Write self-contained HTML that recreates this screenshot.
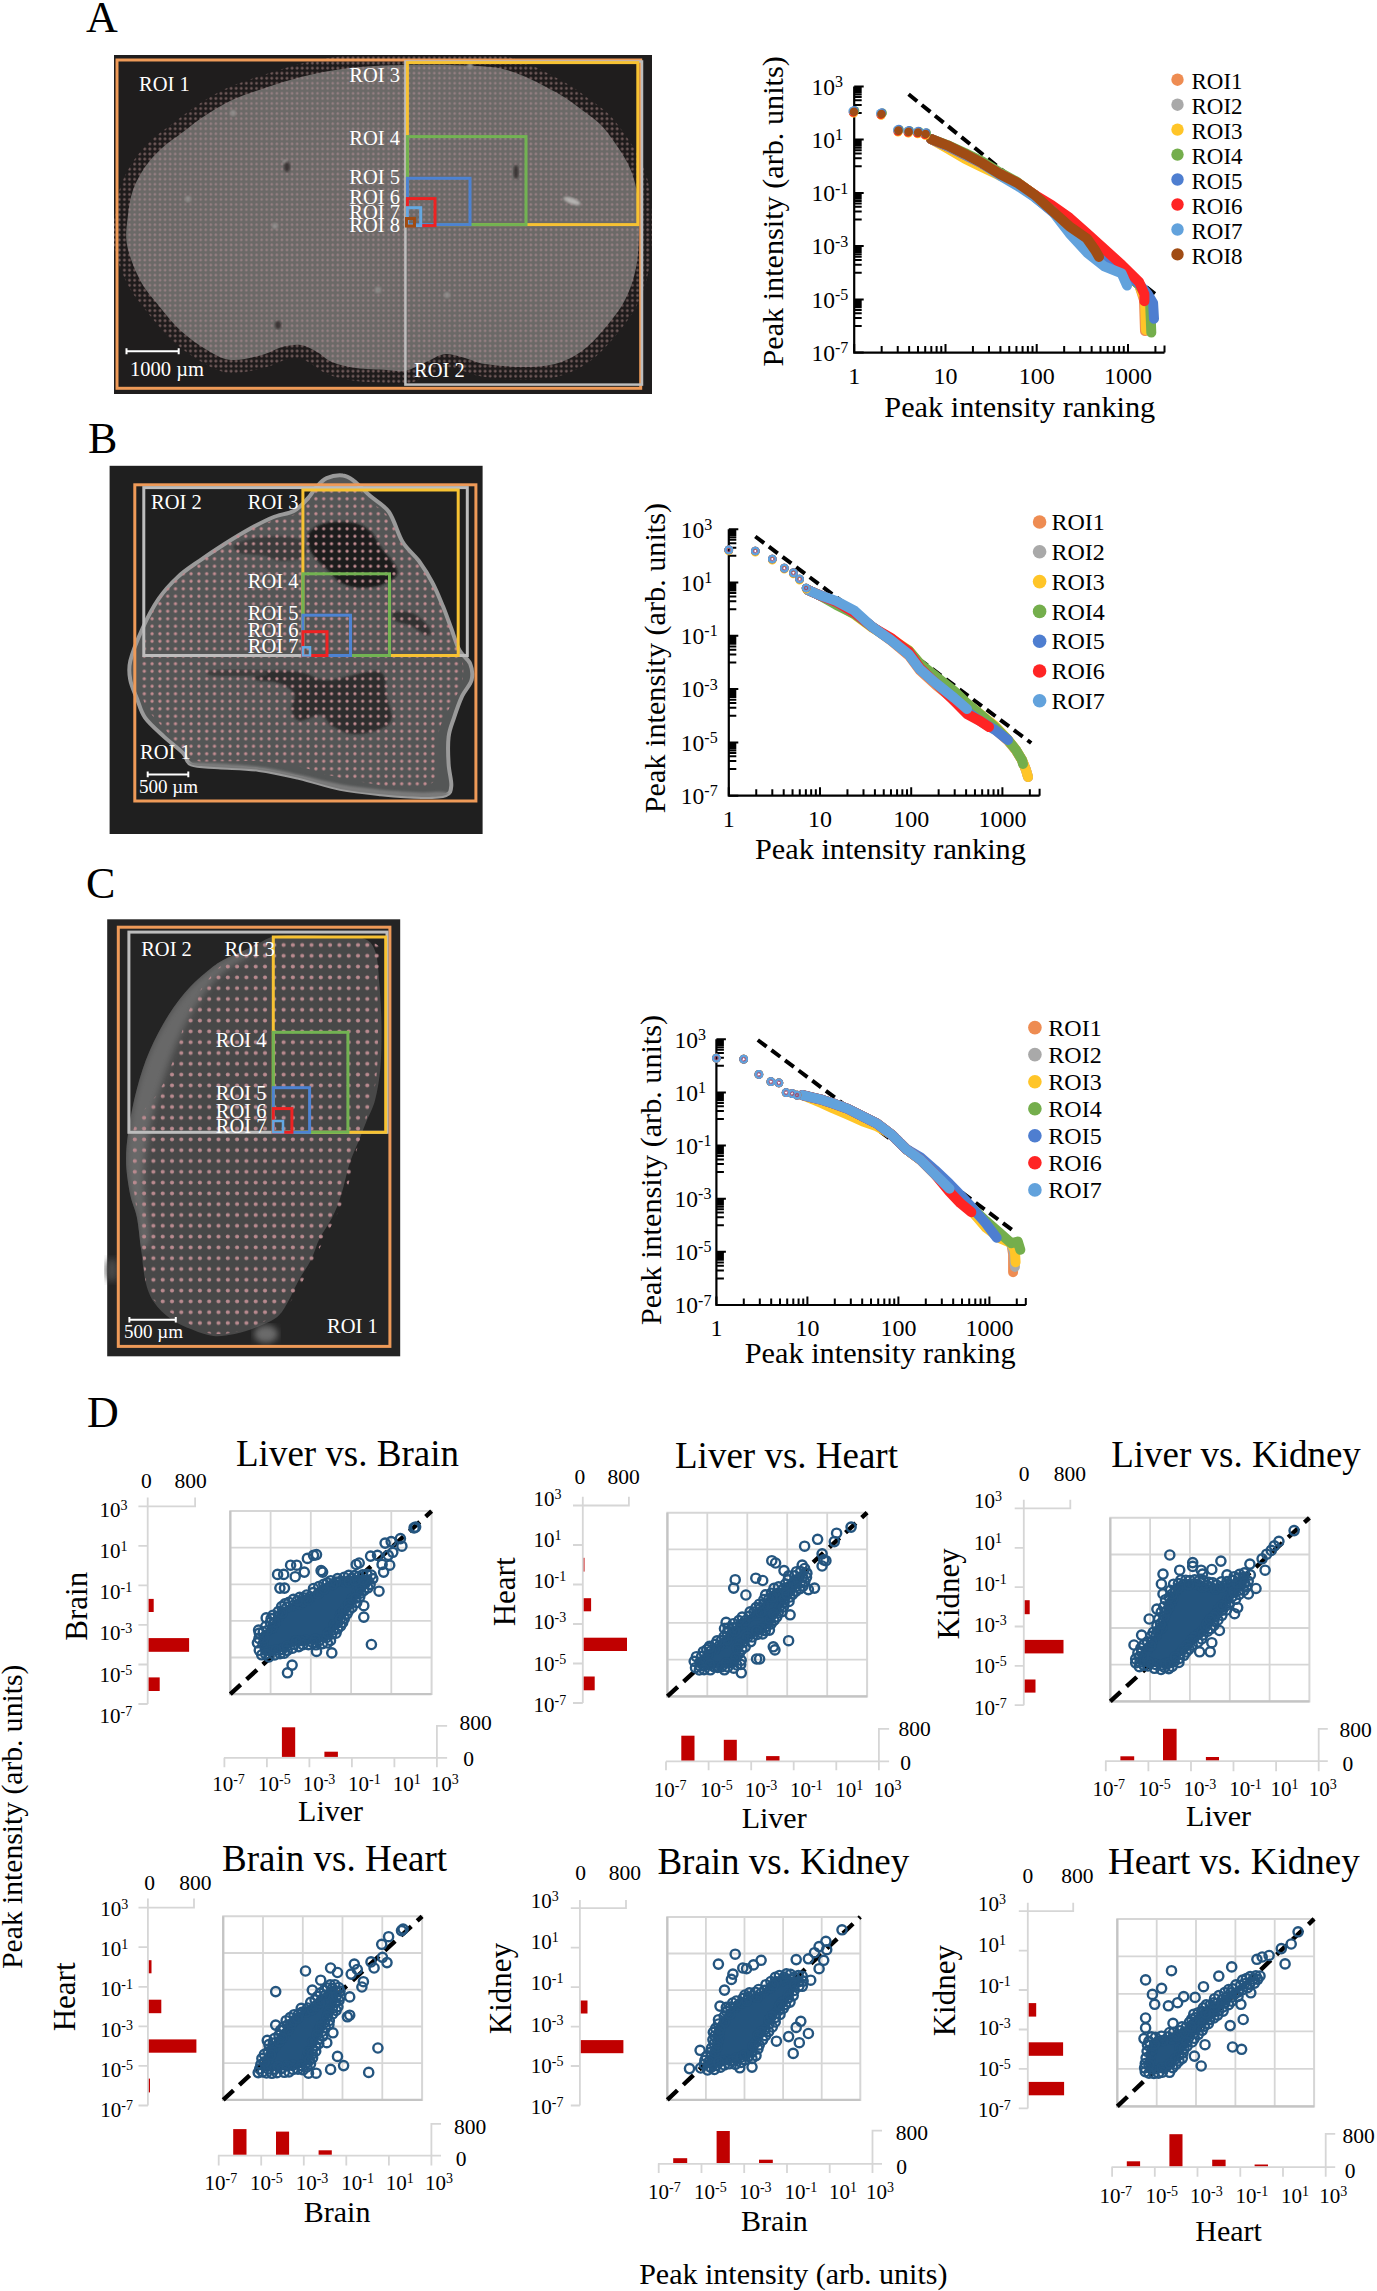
<!DOCTYPE html><html><head><meta charset="utf-8"><style>html,body{margin:0;padding:0;background:#fff;}svg{display:block;}text{font-family:'Liberation Serif', serif;}</style></head><body>
<svg width="1377" height="2291" viewBox="0 0 1377 2291">
<defs>
<pattern id="dotA" x="0" y="0" width="5.08" height="5.05" patternUnits="userSpaceOnUse"><rect width="5.1" height="5.1" fill="#6b6967"/><circle cx="2.5" cy="2.5" r="1.35" fill="#947f82"/></pattern>
<pattern id="haloA" x="0" y="0" width="5.08" height="5.05" patternUnits="userSpaceOnUse"><rect width="5.1" height="5.1" fill="#1e1b1b"/><circle cx="2.5" cy="2.5" r="1.45" fill="#6e5858"/></pattern>
<pattern id="dotB" x="0" y="0" width="7.8" height="7.5" patternUnits="userSpaceOnUse"><circle cx="3.9" cy="3.7" r="1.65" fill="#c48d92"/></pattern>
<pattern id="dotC" x="0" y="0" width="9.3" height="10.8" patternUnits="userSpaceOnUse"><circle cx="4.6" cy="5.4" r="2.0" fill="#b98a8f"/></pattern>
<filter id="blur1"><feGaussianBlur stdDeviation="1.2"/></filter>
<filter id="blur3"><feGaussianBlur stdDeviation="3"/></filter>
</defs>
<rect width="100%" height="100%" fill="#fff"/>
<text x="86.0" y="32.0" font-size="44" text-anchor="start" fill="#000" >A</text>
<text x="88.0" y="453.0" font-size="44" text-anchor="start" fill="#000" >B</text>
<text x="86.0" y="898.0" font-size="44" text-anchor="start" fill="#000" >C</text>
<text x="87.0" y="1427.0" font-size="44" text-anchor="start" fill="#000" >D</text>
<rect x="114" y="55" width="538" height="339" fill="#1f1d1d"/>
<clipPath id="cAimg"><rect x="114" y="55" width="538" height="339"/></clipPath>
<path d="M405.0,65.0 C417.5,64.8 435.7,64.7 450.0,65.0 C464.3,65.3 481.0,66.0 491.0,67.0 C501.0,68.0 503.8,69.2 510.0,71.0 C516.2,72.8 522.0,75.3 528.0,78.0 C534.0,80.7 540.0,83.8 546.0,87.0 C552.0,90.2 558.0,93.2 564.0,97.0 C570.0,100.8 576.0,105.5 582.0,110.0 C588.0,114.5 594.5,118.5 600.0,124.0 C605.5,129.5 610.3,136.3 615.0,143.0 C619.7,149.7 624.7,157.3 628.0,164.0 C631.3,170.7 633.3,176.3 635.0,183.0 C636.7,189.7 637.3,195.7 638.0,204.0 C638.7,212.3 639.3,222.3 639.0,233.0 C638.7,243.7 638.3,256.8 636.0,268.0 C633.7,279.2 630.2,290.0 625.0,300.0 C619.8,310.0 612.2,319.5 605.0,328.0 C597.8,336.5 590.3,345.0 582.0,351.0 C573.7,357.0 564.8,361.3 555.0,364.0 C545.2,366.7 534.7,367.0 523.0,367.0 C511.3,367.0 494.7,365.5 485.0,364.0 C475.3,362.5 471.7,359.7 465.0,358.0 C458.3,356.3 451.5,353.3 445.0,354.0 C438.5,354.7 432.7,359.2 426.0,362.0 C419.3,364.8 411.5,369.7 405.0,371.0 C398.5,372.3 395.2,370.5 387.0,370.0 C378.8,369.5 365.2,369.3 356.0,368.0 C346.8,366.7 338.5,364.7 332.0,362.0 C325.5,359.3 322.2,354.8 317.0,352.0 C311.8,349.2 306.8,345.8 301.0,345.0 C295.2,344.2 288.5,345.3 282.0,347.0 C275.5,348.7 270.5,352.8 262.0,355.0 C253.5,357.2 240.2,360.8 231.0,360.0 C221.8,359.2 215.3,354.8 207.0,350.0 C198.7,345.2 189.0,338.3 181.0,331.0 C173.0,323.7 165.8,314.5 159.0,306.0 C152.2,297.5 145.3,290.2 140.0,280.0 C134.7,269.8 129.0,255.8 127.0,245.0 C125.0,234.2 127.0,224.2 128.0,215.0 C129.0,205.8 130.2,198.0 133.0,190.0 C135.8,182.0 140.2,174.0 145.0,167.0 C149.8,160.0 155.7,153.8 162.0,148.0 C168.3,142.2 176.2,137.2 183.0,132.0 C189.8,126.8 195.2,122.2 203.0,117.0 C210.8,111.8 220.7,105.5 230.0,101.0 C239.3,96.5 247.2,94.0 259.0,90.0 C270.8,86.0 287.2,80.5 301.0,77.0 C314.8,73.5 329.7,70.8 342.0,69.0 C354.3,67.2 364.5,66.7 375.0,66.0 C385.5,65.3 392.5,65.2 405.0,65.0Z" fill="url(#haloA)" stroke="url(#haloA)" stroke-width="26" stroke-linejoin="round" clip-path="url(#cAimg)"/>
<path d="M405.0,65.0 C417.5,64.8 435.7,64.7 450.0,65.0 C464.3,65.3 481.0,66.0 491.0,67.0 C501.0,68.0 503.8,69.2 510.0,71.0 C516.2,72.8 522.0,75.3 528.0,78.0 C534.0,80.7 540.0,83.8 546.0,87.0 C552.0,90.2 558.0,93.2 564.0,97.0 C570.0,100.8 576.0,105.5 582.0,110.0 C588.0,114.5 594.5,118.5 600.0,124.0 C605.5,129.5 610.3,136.3 615.0,143.0 C619.7,149.7 624.7,157.3 628.0,164.0 C631.3,170.7 633.3,176.3 635.0,183.0 C636.7,189.7 637.3,195.7 638.0,204.0 C638.7,212.3 639.3,222.3 639.0,233.0 C638.7,243.7 638.3,256.8 636.0,268.0 C633.7,279.2 630.2,290.0 625.0,300.0 C619.8,310.0 612.2,319.5 605.0,328.0 C597.8,336.5 590.3,345.0 582.0,351.0 C573.7,357.0 564.8,361.3 555.0,364.0 C545.2,366.7 534.7,367.0 523.0,367.0 C511.3,367.0 494.7,365.5 485.0,364.0 C475.3,362.5 471.7,359.7 465.0,358.0 C458.3,356.3 451.5,353.3 445.0,354.0 C438.5,354.7 432.7,359.2 426.0,362.0 C419.3,364.8 411.5,369.7 405.0,371.0 C398.5,372.3 395.2,370.5 387.0,370.0 C378.8,369.5 365.2,369.3 356.0,368.0 C346.8,366.7 338.5,364.7 332.0,362.0 C325.5,359.3 322.2,354.8 317.0,352.0 C311.8,349.2 306.8,345.8 301.0,345.0 C295.2,344.2 288.5,345.3 282.0,347.0 C275.5,348.7 270.5,352.8 262.0,355.0 C253.5,357.2 240.2,360.8 231.0,360.0 C221.8,359.2 215.3,354.8 207.0,350.0 C198.7,345.2 189.0,338.3 181.0,331.0 C173.0,323.7 165.8,314.5 159.0,306.0 C152.2,297.5 145.3,290.2 140.0,280.0 C134.7,269.8 129.0,255.8 127.0,245.0 C125.0,234.2 127.0,224.2 128.0,215.0 C129.0,205.8 130.2,198.0 133.0,190.0 C135.8,182.0 140.2,174.0 145.0,167.0 C149.8,160.0 155.7,153.8 162.0,148.0 C168.3,142.2 176.2,137.2 183.0,132.0 C189.8,126.8 195.2,122.2 203.0,117.0 C210.8,111.8 220.7,105.5 230.0,101.0 C239.3,96.5 247.2,94.0 259.0,90.0 C270.8,86.0 287.2,80.5 301.0,77.0 C314.8,73.5 329.7,70.8 342.0,69.0 C354.3,67.2 364.5,66.7 375.0,66.0 C385.5,65.3 392.5,65.2 405.0,65.0Z" fill="url(#dotA)"/>
<circle cx="233" cy="113" r="3" fill="#8e8c8a" filter="url(#blur1)"/>
<circle cx="275" cy="226" r="3" fill="#8e8c8a" filter="url(#blur1)"/>
<circle cx="188" cy="199" r="3" fill="#8e8c8a" filter="url(#blur1)"/>
<circle cx="447" cy="295" r="3" fill="#8e8c8a" filter="url(#blur1)"/>
<circle cx="378" cy="290" r="3" fill="#8e8c8a" filter="url(#blur1)"/>
<circle cx="285" cy="162" r="2.5" fill="#8e8c8a" filter="url(#blur1)"/>
<circle cx="470" cy="66" r="3" fill="#8e8c8a" filter="url(#blur1)"/>
<ellipse cx="572" cy="201" rx="9" ry="3" transform="rotate(20 572 201)" fill="#b4b2b0" filter="url(#blur1)"/>
<ellipse cx="287" cy="167" rx="3" ry="5" fill="#3a3434" filter="url(#blur1)"/>
<ellipse cx="516" cy="172" rx="2.5" ry="7" fill="#3a3434" filter="url(#blur1)"/>
<ellipse cx="278" cy="325" rx="3" ry="4" fill="#3a3434" filter="url(#blur1)"/>
<rect x="117.0" y="60.0" width="523.7" height="328.3" fill="none" stroke="#EE9A58" stroke-width="3"/>
<rect x="405.4" y="61.5" width="236.6" height="323.1" fill="none" stroke="#BDBDBD" stroke-width="2.5"/>
<rect x="407.4" y="62.6" width="230.4" height="162.0" fill="none" stroke="#F7C232" stroke-width="3"/>
<rect x="407.4" y="136.6" width="118.6" height="88.0" fill="none" stroke="#72B352" stroke-width="3"/>
<rect x="407.4" y="178.3" width="62.6" height="46.3" fill="none" stroke="#4D82D2" stroke-width="3"/>
<rect x="407.4" y="198.6" width="27.6" height="27.0" fill="none" stroke="#EE2222" stroke-width="3"/>
<rect x="407.4" y="207.7" width="13.3" height="17.9" fill="none" stroke="#63A8E2" stroke-width="3"/>
<rect x="406.5" y="218.5" width="8.0" height="7.5" fill="none" stroke="#A04B12" stroke-width="3"/>
<text x="139.0" y="90.6" font-size="20.5" text-anchor="start" fill="#fff">ROI 1</text>
<text x="400.0" y="81.5" font-size="20.5" text-anchor="end" fill="#fff">ROI 3</text>
<text x="400.0" y="145.2" font-size="20.5" text-anchor="end" fill="#fff">ROI 4</text>
<text x="400.0" y="184.0" font-size="20.5" text-anchor="end" fill="#fff">ROI 5</text>
<text x="400.0" y="203.7" font-size="20.5" text-anchor="end" fill="#fff">ROI 6</text>
<text x="400.0" y="218.5" font-size="20.5" text-anchor="end" fill="#fff">ROI 7</text>
<text x="400.0" y="232.0" font-size="20.5" text-anchor="end" fill="#fff">ROI 8</text>
<text x="414.0" y="377.4" font-size="20.5" text-anchor="start" fill="#fff">ROI 2</text>
<path d="M126.5,351.2H178.7M126.5,348.3V354.2M178.7,348.3V354.2" stroke="#fff" stroke-width="2" fill="none"/>
<text x="130.0" y="375.5" font-size="20.5" text-anchor="start" fill="#fff">1000 µm</text>
<rect x="109.6" y="465.8" width="373" height="368.2" fill="#1f1f1f"/>
<path d="M130.3,661.0 C132.3,652.4 137.8,638.9 142.5,628.5 C147.2,618.1 152.9,607.3 158.8,598.7 C164.6,590.1 170.9,583.4 177.7,577.1 C184.5,570.7 191.7,566.2 199.4,560.8 C207.1,555.4 215.2,550.0 223.8,544.5 C232.3,539.1 242.7,532.8 250.8,528.3 C259.0,523.8 265.3,520.4 272.5,517.5 C279.7,514.5 288.3,513.9 294.2,510.7 C300.1,507.5 304.1,502.3 307.7,498.5 C311.3,494.7 312.7,491.1 315.9,487.7 C319.0,484.3 322.2,480.2 326.7,478.2 C331.2,476.2 338.4,475.0 342.9,475.5 C347.5,475.9 349.3,477.5 353.8,480.9 C358.3,484.3 364.2,490.6 370.0,495.8 C375.9,501.0 383.6,504.4 389.0,512.0 C394.4,519.7 397.6,533.7 402.5,541.8 C407.5,550.0 413.8,554.0 418.8,560.8 C423.7,567.6 428.3,574.8 432.3,582.5 C436.4,590.1 440.0,599.2 443.2,606.8 C446.3,614.5 448.6,621.3 451.3,628.5 C454.0,635.7 456.2,644.3 459.4,650.2 C462.6,656.1 468.2,658.8 470.2,663.7 C472.3,668.7 472.9,674.6 471.6,680.0 C470.2,685.4 465.0,689.9 462.1,696.2 C459.2,702.5 456.2,711.1 454.0,717.9 C451.7,724.7 449.5,729.2 448.6,736.9 C447.7,744.5 448.1,755.8 448.6,763.9 C449.0,772.1 451.7,780.4 451.3,785.6 C450.8,790.8 450.8,793.2 445.9,795.1 C440.9,797.0 432.3,797.1 421.5,797.0 C410.7,796.9 394.4,795.6 380.9,794.3 C367.3,792.9 353.8,791.6 340.2,788.9 C326.7,786.2 313.1,781.2 299.6,778.0 C286.1,774.9 272.5,771.7 259.0,769.9 C245.4,768.1 229.6,768.1 218.3,767.2 C207.1,766.3 197.1,766.8 191.3,764.5 C185.4,762.1 187.6,757.7 183.1,753.1 C178.6,748.5 170.5,742.7 164.2,736.9 C157.9,731.0 149.7,724.2 145.2,717.9 C140.7,711.6 139.6,705.3 137.1,698.9 C134.6,692.6 131.4,686.3 130.3,680.0 C129.2,673.7 128.3,669.6 130.3,661.0Z" fill="#545656" stroke="#9a9a9a" stroke-width="4"/>
<clipPath id="cB"><path d="M130.3,661.0 C132.3,652.4 137.8,638.9 142.5,628.5 C147.2,618.1 152.9,607.3 158.8,598.7 C164.6,590.1 170.9,583.4 177.7,577.1 C184.5,570.7 191.7,566.2 199.4,560.8 C207.1,555.4 215.2,550.0 223.8,544.5 C232.3,539.1 242.7,532.8 250.8,528.3 C259.0,523.8 265.3,520.4 272.5,517.5 C279.7,514.5 288.3,513.9 294.2,510.7 C300.1,507.5 304.1,502.3 307.7,498.5 C311.3,494.7 312.7,491.1 315.9,487.7 C319.0,484.3 322.2,480.2 326.7,478.2 C331.2,476.2 338.4,475.0 342.9,475.5 C347.5,475.9 349.3,477.5 353.8,480.9 C358.3,484.3 364.2,490.6 370.0,495.8 C375.9,501.0 383.6,504.4 389.0,512.0 C394.4,519.7 397.6,533.7 402.5,541.8 C407.5,550.0 413.8,554.0 418.8,560.8 C423.7,567.6 428.3,574.8 432.3,582.5 C436.4,590.1 440.0,599.2 443.2,606.8 C446.3,614.5 448.6,621.3 451.3,628.5 C454.0,635.7 456.2,644.3 459.4,650.2 C462.6,656.1 468.2,658.8 470.2,663.7 C472.3,668.7 472.9,674.6 471.6,680.0 C470.2,685.4 465.0,689.9 462.1,696.2 C459.2,702.5 456.2,711.1 454.0,717.9 C451.7,724.7 449.5,729.2 448.6,736.9 C447.7,744.5 448.1,755.8 448.6,763.9 C449.0,772.1 451.7,780.4 451.3,785.6 C450.8,790.8 450.8,793.2 445.9,795.1 C440.9,797.0 432.3,797.1 421.5,797.0 C410.7,796.9 394.4,795.6 380.9,794.3 C367.3,792.9 353.8,791.6 340.2,788.9 C326.7,786.2 313.1,781.2 299.6,778.0 C286.1,774.9 272.5,771.7 259.0,769.9 C245.4,768.1 229.6,768.1 218.3,767.2 C207.1,766.3 197.1,766.8 191.3,764.5 C185.4,762.1 187.6,757.7 183.1,753.1 C178.6,748.5 170.5,742.7 164.2,736.9 C157.9,731.0 149.7,724.2 145.2,717.9 C140.7,711.6 139.6,705.3 137.1,698.9 C134.6,692.6 131.4,686.3 130.3,680.0 C129.2,673.7 128.3,669.6 130.3,661.0Z"/></clipPath>
<path d="M191.3,762.6 C203.0,762.1 240.9,764.6 259.0,766.7 C277.0,768.7 286.1,771.8 299.6,774.8 C313.1,777.7 326.7,781.8 340.2,784.3 C353.8,786.7 367.3,788.3 380.9,789.7 C394.4,791.0 410.7,791.9 421.5,792.4 C432.3,792.8 441.3,790.8 445.9,792.4 C450.4,794.0 459.4,800.3 448.6,801.9 C437.7,803.4 405.7,803.7 380.9,801.9 C356.0,800.1 326.7,795.5 299.6,791.0 C272.5,786.5 236.9,778.4 218.3,774.8 C199.8,771.2 193.1,771.4 188.5,769.4 C184.0,767.3 179.5,763.0 191.3,762.6Z" fill="#7a7a7a" clip-path="url(#cB)" filter="url(#blur1)"/>
<path d="M310.4,531.0 C313.6,527.8 319.5,524.2 326.7,522.9 C333.9,521.5 346.5,521.5 353.8,522.9 C361.0,524.2 365.5,526.9 370.0,531.0 C374.5,535.1 377.2,542.3 380.9,547.3 C384.5,552.2 389.0,556.3 391.7,560.8 C394.4,565.3 398.9,570.3 397.1,574.3 C395.3,578.4 387.2,582.9 380.9,585.2 C374.5,587.4 366.0,588.3 359.2,587.9 C352.4,587.4 345.6,585.6 340.2,582.5 C334.8,579.3 331.2,573.4 326.7,568.9 C322.2,564.4 316.3,559.9 313.1,555.4 C310.0,550.9 308.2,545.9 307.7,541.8 C307.3,537.8 307.3,534.2 310.4,531.0Z" fill="#1e1e1e" filter="url(#blur1)"/>
<path d="M234.6,544.5 C238.2,541.8 250.8,537.9 261.7,537.0 C272.5,536.1 292.4,536.1 299.6,539.1 C306.8,542.2 307.7,551.8 305.0,555.4 C302.3,559.0 290.6,560.8 283.3,560.8 C276.1,560.8 268.9,556.6 261.7,555.4 C254.5,554.1 244.5,555.0 240.0,553.2 C235.5,551.4 231.0,547.3 234.6,544.5Z" fill="#3a3a3a" filter="url(#blur1)"/>
<path d="M261.7,671.9 C268.9,670.5 288.8,670.5 299.6,671.9 C310.4,673.2 315.4,680.0 326.7,680.0 C338.0,680.0 357.8,672.8 367.3,671.9 C376.8,670.9 380.4,670.5 383.6,674.6 C386.7,678.6 384.9,689.0 386.3,696.2 C387.6,703.5 392.6,712.5 391.7,717.9 C390.8,723.3 387.2,726.0 380.9,728.7 C374.5,731.4 361.9,734.6 353.8,734.1 C345.6,733.7 337.5,729.2 332.1,726.0 C326.7,722.9 326.7,716.1 321.3,715.2 C315.9,714.3 304.6,721.5 299.6,720.6 C294.6,719.7 292.4,714.3 291.5,709.8 C290.6,705.3 296.4,698.0 294.2,693.5 C291.9,689.0 284.3,684.9 277.9,682.7 C271.6,680.4 259.0,681.8 256.3,680.0 C253.6,678.2 254.5,673.2 261.7,671.9Z" fill="#2e2e2e" filter="url(#blur1)"/>
<path d="M212.9,670.5 C221.1,669.6 253.6,669.6 261.7,670.5 C269.8,671.4 269.8,675.0 261.7,675.9 C253.6,676.8 221.1,676.8 212.9,675.9 C204.8,675.0 204.8,671.4 212.9,670.5Z" fill="#3c3c3c" filter="url(#blur1)"/>
<path d="M394.4,612.3 C397.6,611.1 407.5,610.9 413.4,613.6 C419.2,616.3 427.4,624.9 429.6,628.5 C431.9,632.1 430.1,635.7 426.9,635.3 C423.7,634.8 416.1,628.3 410.7,625.8 C405.2,623.3 397.1,622.6 394.4,620.4 C391.7,618.1 391.2,613.4 394.4,612.3Z" fill="#333333" filter="url(#blur1)"/>
<clipPath id="cB2"><path d="M145.2,639.3 C148.4,627.2 149.7,611.8 158.8,598.7 C167.8,585.6 184.0,572.5 199.4,560.8 C214.7,549.1 234.1,536.4 250.8,528.3 C267.5,520.2 288.8,518.4 299.6,512.0 C310.4,505.7 306.8,494.4 315.9,490.4 C324.9,486.3 344.7,485.9 353.8,487.7 C362.8,489.5 364.2,496.2 370.0,501.2 C375.9,506.2 383.6,510.2 389.0,517.5 C394.4,524.7 397.6,536.9 402.5,544.5 C407.5,552.2 413.8,556.7 418.8,563.5 C423.7,570.3 428.3,577.5 432.3,585.2 C436.4,592.9 439.5,601.4 443.2,609.6 C446.8,617.7 450.8,626.3 454.0,633.9 C457.1,641.6 460.8,647.5 462.1,655.6 C463.5,663.7 463.9,674.6 462.1,682.7 C460.3,690.8 454.9,697.1 451.3,704.4 C447.7,711.6 443.2,717.9 440.4,726.0 C437.7,734.1 435.9,744.1 435.0,753.1 C434.1,762.1 439.5,774.3 435.0,780.2 C430.5,786.1 419.2,787.9 407.9,788.3 C396.7,788.8 380.9,785.2 367.3,782.9 C353.8,780.6 338.0,777.5 326.7,774.8 C315.4,772.1 310.9,768.9 299.6,766.7 C288.3,764.4 272.5,762.1 259.0,761.2 C245.4,760.3 229.6,761.7 218.3,761.2 C207.1,760.8 199.8,763.5 191.3,758.5 C182.7,753.6 174.6,740.5 166.9,731.4 C159.2,722.4 149.7,714.3 145.2,704.4 C140.7,694.4 139.8,682.7 139.8,671.9 C139.8,661.0 142.1,651.5 145.2,639.3Z"/></clipPath>
<rect x="125" y="480" width="350" height="320" fill="url(#dotB)" clip-path="url(#cB2)"/>
<rect x="134.8" y="484.8" width="341.1" height="316.2" fill="none" stroke="#EE9A58" stroke-width="3"/>
<rect x="143.8" y="487.6" width="323.5" height="167.9" fill="none" stroke="#BDBDBD" stroke-width="3"/>
<rect x="302.9" y="490.0" width="155.3" height="165.5" fill="none" stroke="#F7C232" stroke-width="3"/>
<rect x="302.9" y="573.8" width="86.6" height="81.7" fill="none" stroke="#72B352" stroke-width="3"/>
<rect x="302.9" y="615.2" width="47.6" height="40.3" fill="none" stroke="#4D82D2" stroke-width="3"/>
<rect x="302.9" y="631.7" width="24.1" height="23.8" fill="none" stroke="#EE2222" stroke-width="3"/>
<rect x="302.9" y="647.3" width="7.1" height="8.2" fill="none" stroke="#63A8E2" stroke-width="2.5"/>
<text x="151.0" y="509.0" font-size="20.5" text-anchor="start" fill="#fff">ROI 2</text>
<text x="298.5" y="509.0" font-size="20.5" text-anchor="end" fill="#fff">ROI 3</text>
<text x="298.5" y="588.4" font-size="20.5" text-anchor="end" fill="#fff">ROI 4</text>
<text x="298.5" y="620.4" font-size="20.5" text-anchor="end" fill="#fff">ROI 5</text>
<text x="298.5" y="636.6" font-size="20.5" text-anchor="end" fill="#fff">ROI 6</text>
<text x="298.5" y="652.5" font-size="20.5" text-anchor="end" fill="#fff">ROI 7</text>
<text x="140.0" y="759.2" font-size="20.5" text-anchor="start" fill="#fff">ROI 1</text>
<path d="M147.7,774.4H188.3M147.7,771.5V777.3M188.3,771.5V777.3" stroke="#fff" stroke-width="2" fill="none"/>
<text x="139.0" y="793.3" font-size="19" text-anchor="start" fill="#fff">500 µm</text>
<rect x="107.2" y="919.3" width="293" height="437" fill="#242424"/>
<path d="M211.3,967.9 C217.3,963.1 220.8,961.2 226.1,958.4 C231.5,955.5 237.5,953.6 243.2,950.9 C248.8,948.3 254.9,944.9 260.2,942.4 C265.5,939.9 268.7,937.3 275.1,936.0 C281.5,934.8 289.3,935.0 298.5,935.0 C307.7,935.0 319.8,935.5 330.4,936.0 C341.0,936.6 354.9,935.7 362.3,938.1 C369.8,940.6 372.2,943.5 375.1,950.9 C377.9,958.4 378.3,970.4 379.3,982.8 C380.4,995.2 381.3,1011.2 381.5,1025.4 C381.6,1039.6 381.5,1055.5 380.4,1067.9 C379.3,1080.3 377.4,1091.0 375.1,1099.9 C372.8,1108.7 369.4,1114.0 366.6,1121.1 C363.7,1128.2 360.9,1135.3 358.1,1142.4 C355.2,1149.5 352.4,1154.8 349.6,1163.7 C346.7,1172.5 343.9,1186.7 341.0,1195.6 C338.2,1204.5 336.1,1209.8 332.5,1216.9 C329.0,1224.0 323.3,1231.1 319.8,1238.1 C316.2,1245.2 314.8,1252.3 311.3,1259.4 C307.7,1266.5 302.4,1273.6 298.5,1280.7 C294.6,1287.8 291.4,1296.0 287.9,1302.0 C284.3,1308.0 282.5,1312.6 277.2,1316.9 C271.9,1321.1 263.0,1324.7 255.9,1327.5 C248.8,1330.3 241.8,1332.5 234.7,1333.9 C227.6,1335.3 220.5,1336.7 213.4,1336.0 C206.3,1335.3 199.2,1332.5 192.1,1329.6 C185.0,1326.8 177.2,1323.6 170.8,1319.0 C164.4,1314.4 158.1,1308.4 153.8,1302.0 C149.6,1295.6 147.4,1289.6 145.3,1280.7 C143.2,1271.8 142.5,1259.4 141.0,1248.8 C139.6,1238.1 138.6,1225.7 136.8,1216.9 C135.0,1208.0 132.2,1204.5 130.4,1195.6 C128.6,1186.7 126.5,1174.3 126.1,1163.7 C125.8,1153.0 126.5,1144.2 128.3,1131.8 C130.0,1119.4 133.2,1102.7 136.8,1089.2 C140.3,1075.7 144.2,1063.3 149.6,1050.9 C154.9,1038.5 162.0,1025.4 168.7,1014.7 C175.4,1004.1 182.9,994.9 190.0,987.1 C197.1,979.3 205.2,972.7 211.3,967.9Z" fill="#484848"/>
<clipPath id="cC"><path d="M211.3,967.9 C217.3,963.1 220.8,961.2 226.1,958.4 C231.5,955.5 237.5,953.6 243.2,950.9 C248.8,948.3 254.9,944.9 260.2,942.4 C265.5,939.9 268.7,937.3 275.1,936.0 C281.5,934.8 289.3,935.0 298.5,935.0 C307.7,935.0 319.8,935.5 330.4,936.0 C341.0,936.6 354.9,935.7 362.3,938.1 C369.8,940.6 372.2,943.5 375.1,950.9 C377.9,958.4 378.3,970.4 379.3,982.8 C380.4,995.2 381.3,1011.2 381.5,1025.4 C381.6,1039.6 381.5,1055.5 380.4,1067.9 C379.3,1080.3 377.4,1091.0 375.1,1099.9 C372.8,1108.7 369.4,1114.0 366.6,1121.1 C363.7,1128.2 360.9,1135.3 358.1,1142.4 C355.2,1149.5 352.4,1154.8 349.6,1163.7 C346.7,1172.5 343.9,1186.7 341.0,1195.6 C338.2,1204.5 336.1,1209.8 332.5,1216.9 C329.0,1224.0 323.3,1231.1 319.8,1238.1 C316.2,1245.2 314.8,1252.3 311.3,1259.4 C307.7,1266.5 302.4,1273.6 298.5,1280.7 C294.6,1287.8 291.4,1296.0 287.9,1302.0 C284.3,1308.0 282.5,1312.6 277.2,1316.9 C271.9,1321.1 263.0,1324.7 255.9,1327.5 C248.8,1330.3 241.8,1332.5 234.7,1333.9 C227.6,1335.3 220.5,1336.7 213.4,1336.0 C206.3,1335.3 199.2,1332.5 192.1,1329.6 C185.0,1326.8 177.2,1323.6 170.8,1319.0 C164.4,1314.4 158.1,1308.4 153.8,1302.0 C149.6,1295.6 147.4,1289.6 145.3,1280.7 C143.2,1271.8 142.5,1259.4 141.0,1248.8 C139.6,1238.1 138.6,1225.7 136.8,1216.9 C135.0,1208.0 132.2,1204.5 130.4,1195.6 C128.6,1186.7 126.5,1174.3 126.1,1163.7 C125.8,1153.0 126.5,1144.2 128.3,1131.8 C130.0,1119.4 133.2,1102.7 136.8,1089.2 C140.3,1075.7 144.2,1063.3 149.6,1050.9 C154.9,1038.5 162.0,1025.4 168.7,1014.7 C175.4,1004.1 182.9,994.9 190.0,987.1 C197.1,979.3 205.2,972.7 211.3,967.9Z"/></clipPath>
<path d="M211.3,967.9 C217.3,963.1 220.8,961.2 226.1,958.4 C231.5,955.5 239.6,951.3 243.2,950.9 C246.7,950.6 250.3,953.0 247.4,956.2 C244.6,959.4 232.5,964.9 226.1,970.1 C219.8,975.2 214.8,980.0 209.1,987.1 C203.5,994.2 197.4,1003.4 192.1,1012.6 C186.8,1021.8 181.8,1031.8 177.2,1042.4 C172.6,1053.0 168.3,1065.1 164.4,1076.4 C160.5,1087.8 156.6,1099.5 153.8,1110.5 C151.0,1121.5 149.0,1131.8 147.4,1142.4 C145.8,1153.0 144.4,1163.7 144.2,1174.3 C144.1,1185.0 145.5,1195.6 146.4,1206.2 C147.2,1216.9 150.4,1231.1 149.6,1238.1 C148.7,1245.2 143.2,1252.3 141.0,1248.8 C138.9,1245.2 138.6,1225.7 136.8,1216.9 C135.0,1208.0 132.2,1204.5 130.4,1195.6 C128.6,1186.7 126.5,1174.3 126.1,1163.7 C125.8,1153.0 126.5,1144.2 128.3,1131.8 C130.0,1119.4 133.2,1102.7 136.8,1089.2 C140.3,1075.7 144.2,1063.3 149.6,1050.9 C154.9,1038.5 162.0,1025.4 168.7,1014.7 C175.4,1004.1 182.9,994.9 190.0,987.1 C197.1,979.3 205.2,972.7 211.3,967.9Z" fill="#686868" clip-path="url(#cC)" filter="url(#blur3)"/>
<clipPath id="cC2"><path d="M226.1,961.6 C240.3,950.7 252.7,942.4 277.2,939.2 C301.7,936.0 356.3,935.1 373.0,942.4 C389.6,949.7 376.5,961.9 377.2,982.8 C377.9,1003.8 378.6,1046.7 377.2,1067.9 C375.8,1089.2 372.2,1096.3 368.7,1110.5 C365.2,1124.7 359.8,1138.9 355.9,1153.0 C352.0,1167.2 349.6,1183.2 345.3,1195.6 C341.0,1208.0 336.1,1216.2 330.4,1227.5 C324.7,1238.9 318.0,1251.3 311.3,1263.7 C304.5,1276.1 299.2,1291.7 290.0,1302.0 C280.8,1312.3 268.7,1320.1 255.9,1325.4 C243.2,1330.7 225.8,1335.0 213.4,1333.9 C201.0,1332.8 192.1,1325.7 181.5,1319.0 C170.8,1312.3 156.3,1306.9 149.6,1293.5 C142.8,1280.0 143.5,1254.5 141.0,1238.1 C138.6,1221.8 136.4,1209.8 134.7,1195.6 C132.9,1181.4 130.0,1165.5 130.4,1153.0 C130.8,1140.6 131.8,1131.8 136.8,1121.1 C141.8,1110.5 153.8,1100.2 160.2,1089.2 C166.6,1078.2 169.8,1069.4 175.1,1055.2 C180.4,1041.0 183.6,1019.7 192.1,1004.1 C200.6,988.5 212.0,972.4 226.1,961.6Z"/></clipPath>
<rect x="110" y="920" width="290" height="435" fill="url(#dotC)" clip-path="url(#cC2)"/>
<ellipse cx="266" cy="1334" rx="12" ry="9" fill="#6a6a6a" filter="url(#blur3)"/>
<ellipse cx="112" cy="1270" rx="6" ry="12" fill="#4a4a4a" filter="url(#blur3)"/>
<rect x="118.3" y="927.2" width="271.6" height="419.2" fill="none" stroke="#EE9A58" stroke-width="3"/>
<rect x="128.9" y="932.1" width="258.1" height="200.2" fill="none" stroke="#BDBDBD" stroke-width="3"/>
<rect x="273.3" y="937.0" width="112.4" height="195.3" fill="none" stroke="#F7C232" stroke-width="3"/>
<rect x="273.3" y="1032.3" width="74.6" height="100.0" fill="none" stroke="#72B352" stroke-width="3"/>
<rect x="273.3" y="1087.7" width="36.3" height="44.6" fill="none" stroke="#4D82D2" stroke-width="3"/>
<rect x="273.3" y="1108.6" width="18.6" height="23.7" fill="none" stroke="#EE2222" stroke-width="3"/>
<rect x="273.3" y="1121.0" width="9.7" height="11.3" fill="none" stroke="#63A8E2" stroke-width="2.5"/>
<text x="141.2" y="955.6" font-size="20.5" text-anchor="start" fill="#fff">ROI 2</text>
<text x="224.4" y="955.6" font-size="20.5" text-anchor="start" fill="#fff">ROI 3</text>
<text x="215.8" y="1047.0" font-size="20.5" text-anchor="start" fill="#fff">ROI 4</text>
<text x="215.8" y="1100.2" font-size="20.5" text-anchor="start" fill="#fff">ROI 5</text>
<text x="215.8" y="1118.0" font-size="20.5" text-anchor="start" fill="#fff">ROI 6</text>
<text x="215.8" y="1132.8" font-size="20.5" text-anchor="start" fill="#fff">ROI 7</text>
<text x="327.0" y="1332.8" font-size="20.5" text-anchor="start" fill="#fff">ROI 1</text>
<path d="M129.4,1319.8H175.8M129.4,1317V1322.6M175.8,1317V1322.6" stroke="#fff" stroke-width="2" fill="none"/>
<text x="124.0" y="1337.8" font-size="19" text-anchor="start" fill="#fff">500 µm</text>
<path d="M854.2,86.4V352.6H1164.5" stroke="#000" stroke-width="2.2" fill="none"/>
<path d="M854.2,352.6h9.5M854.2,299.4h9.5M854.2,246.1h9.5M854.2,192.9h9.5M854.2,139.6h9.5M854.2,86.4h9.5M854.2,325.98h7.5M854.2,317.97h7.5M854.2,313.28h7.5M854.2,309.95h7.5M854.2,307.37h7.5M854.2,305.27h7.5M854.2,303.48h7.5M854.2,301.94h7.5M854.2,300.58h7.5M854.2,272.74h7.5M854.2,264.73h7.5M854.2,260.04h7.5M854.2,256.71h7.5M854.2,254.13h7.5M854.2,252.03h7.5M854.2,250.24h7.5M854.2,248.70h7.5M854.2,247.34h7.5M854.2,219.50h7.5M854.2,211.49h7.5M854.2,206.80h7.5M854.2,203.47h7.5M854.2,200.89h7.5M854.2,198.79h7.5M854.2,197.00h7.5M854.2,195.46h7.5M854.2,194.10h7.5M854.2,166.26h7.5M854.2,158.25h7.5M854.2,153.56h7.5M854.2,150.23h7.5M854.2,147.65h7.5M854.2,145.55h7.5M854.2,143.76h7.5M854.2,142.22h7.5M854.2,140.86h7.5M854.2,113.02h7.5M854.2,105.01h7.5M854.2,100.32h7.5M854.2,96.99h7.5M854.2,94.41h7.5M854.2,92.31h7.5M854.2,90.52h7.5M854.2,88.98h7.5M854.2,87.62h7.5M854.2,352.6v-8.5M881.67,352.6v-6.5M897.74,352.6v-6.5M909.14,352.6v-6.5M917.98,352.6v-6.5M925.21,352.6v-6.5M931.32,352.6v-6.5M936.61,352.6v-6.5M941.27,352.6v-6.5M945.5,352.6v-8.5M972.92,352.6v-6.5M988.99,352.6v-6.5M1000.39,352.6v-6.5M1009.23,352.6v-6.5M1016.46,352.6v-6.5M1022.57,352.6v-6.5M1027.86,352.6v-6.5M1032.52,352.6v-6.5M1036.7,352.6v-8.5M1064.17,352.6v-6.5M1080.24,352.6v-6.5M1091.64,352.6v-6.5M1100.48,352.6v-6.5M1107.71,352.6v-6.5M1113.82,352.6v-6.5M1119.11,352.6v-6.5M1123.77,352.6v-6.5M1128.0,352.6v-8.5M1155.42,352.6v-6.5M1164.5,352.6v-7" stroke="#000" stroke-width="2" fill="none"/>
<text x="811.5" y="360.9" font-size="23.5">10<tspan font-size="16" dy="-7.7">-7</tspan></text>
<text x="811.5" y="307.7" font-size="23.5">10<tspan font-size="16" dy="-7.7">-5</tspan></text>
<text x="811.5" y="254.4" font-size="23.5">10<tspan font-size="16" dy="-7.7">-3</tspan></text>
<text x="811.5" y="201.2" font-size="23.5">10<tspan font-size="16" dy="-7.7">-1</tspan></text>
<text x="811.5" y="147.9" font-size="23.5">10<tspan font-size="16" dy="-7.7">1</tspan></text>
<text x="811.5" y="94.7" font-size="23.5">10<tspan font-size="16" dy="-7.7">3</tspan></text>
<text x="854.2" y="383.5" font-size="24" text-anchor="middle">1</text>
<text x="945.5" y="383.5" font-size="24" text-anchor="middle">10</text>
<text x="1036.7" y="383.5" font-size="24" text-anchor="middle">100</text>
<text x="1128.0" y="383.5" font-size="24" text-anchor="middle">1000</text>
<text x="1019.8" y="416.6" font-size="30.3" text-anchor="middle">Peak intensity ranking</text>
<text transform="translate(783.2,211.4) rotate(-90)" font-size="30.2" text-anchor="middle">Peak intensity (arb. units)</text>
<path d="M908.6,94.3L1155.9,294.7" stroke="#000" stroke-width="4" stroke-dasharray="11,6" fill="none"/>
<path d="M931.0,139.0 L947.4,147.5 L964.9,156.9 L982.3,165.0 L999.7,174.0 L1017.1,182.7 L1034.6,194.9 L1052.0,210.6 L1069.4,226.3 L1086.9,238.5 L1104.3,254.0 L1121.7,270.0 L1139.2,285.0 L1144.0,300.0 L1145.0,331.0" stroke="#EE8C52" stroke-width="10" fill="none" stroke-linecap="round" stroke-linejoin="round"/>
<path d="M931.0,139.0 L947.4,146.1 L964.9,154.9 L982.3,163.6 L999.7,174.0 L1017.1,182.7 L1034.6,194.9 L1052.0,210.6 L1069.4,226.3 L1086.9,238.5 L1104.3,254.0 L1121.7,270.0 L1139.2,285.0 L1146.0,300.0 L1148.0,325.0" stroke="#A9A9A9" stroke-width="10" fill="none" stroke-linecap="round" stroke-linejoin="round"/>
<path d="M931.0,139.0 L947.4,148.5 L964.9,158.8 L982.3,167.2 L999.7,175.6 L1017.1,182.7 L1034.6,194.9 L1052.0,210.6 L1069.4,226.3 L1086.9,238.5 L1104.3,254.0 L1121.7,270.0 L1139.2,285.0 L1145.0,300.0 L1146.0,330.0" stroke="#FFC528" stroke-width="10" fill="none" stroke-linecap="round" stroke-linejoin="round"/>
<path d="M931.0,139.0 L947.4,145.1 L964.9,153.1 L982.3,161.6 L999.7,172.4 L1017.1,181.9 L1034.6,194.9 L1052.0,208.8 L1069.4,223.3 L1086.9,236.6 L1104.3,254.0 L1121.7,270.0 L1139.2,285.0 L1150.0,300.0 L1151.3,332.6" stroke="#74AE4C" stroke-width="10" fill="none" stroke-linecap="round" stroke-linejoin="round"/>
<path d="M931.0,139.0 L947.4,146.1 L964.9,154.9 L982.3,163.6 L999.7,174.0 L1017.1,184.3 L1034.6,196.8 L1052.0,211.4 L1069.4,226.3 L1086.9,238.5 L1104.3,254.0 L1121.7,270.0 L1139.2,284.0 L1147.9,294.3 L1153.1,303.0 L1154.0,318.7" stroke="#4E7ED0" stroke-width="10" fill="none" stroke-linecap="round" stroke-linejoin="round"/>
<path d="M931.0,139.0 L947.4,146.1 L964.9,154.9 L982.3,163.6 L999.7,174.0 L1017.1,182.7 L1034.6,194.9 L1052.0,205.4 L1069.4,217.6 L1086.9,233.3 L1104.3,249.0 L1121.7,264.7 L1139.2,282.1 L1144.4,294.3 L1144.4,301.3" stroke="#FF2424" stroke-width="10" fill="none" stroke-linecap="round" stroke-linejoin="round"/>
<path d="M931.0,139.0 L947.4,146.1 L964.9,154.9 L982.3,163.6 L999.7,175.4 L1017.1,185.6 L1034.6,197.2 L1052.0,210.6 L1069.4,233.3 L1086.9,252.5 L1104.3,266.4 L1121.7,273.4 L1127.0,285.6" stroke="#62A2DC" stroke-width="10" fill="none" stroke-linecap="round" stroke-linejoin="round"/>
<path d="M931.0,139.0 L947.4,145.3 L964.9,153.9 L982.3,163.2 L999.7,174.0 L1017.1,182.7 L1034.6,194.9 L1052.0,210.6 L1069.4,226.3 L1086.9,238.5 L1095.0,250.0 L1099.0,257.0" stroke="#A04C14" stroke-width="10" fill="none" stroke-linecap="round" stroke-linejoin="round"/>
<circle cx="853.9" cy="112.9" r="4.3" fill="#EE8C52"/><circle cx="881.4" cy="115.1" r="4.3" fill="#EE8C52"/><circle cx="898.4" cy="131.8" r="4.3" fill="#EE8C52"/><circle cx="908.6" cy="132.9" r="4.3" fill="#EE8C52"/><circle cx="918.1" cy="133.6" r="4.3" fill="#EE8C52"/><circle cx="925.6" cy="135.2" r="4.3" fill="#EE8C52"/>
<circle cx="854.6" cy="111.0" r="4.3" fill="#A9A9A9"/><circle cx="882.2" cy="113.2" r="4.3" fill="#A9A9A9"/><circle cx="899.2" cy="129.9" r="4.3" fill="#A9A9A9"/><circle cx="909.4" cy="131.0" r="4.3" fill="#A9A9A9"/><circle cx="918.8" cy="131.8" r="4.3" fill="#A9A9A9"/><circle cx="926.4" cy="133.3" r="4.3" fill="#A9A9A9"/>
<circle cx="853.5" cy="113.2" r="4.3" fill="#FFC528"/><circle cx="881.0" cy="115.5" r="4.3" fill="#FFC528"/><circle cx="898.0" cy="132.1" r="4.3" fill="#FFC528"/><circle cx="908.2" cy="133.3" r="4.3" fill="#FFC528"/><circle cx="917.7" cy="134.0" r="4.3" fill="#FFC528"/><circle cx="925.2" cy="135.5" r="4.3" fill="#FFC528"/>
<circle cx="855.0" cy="110.6" r="4.3" fill="#74AE4C"/><circle cx="882.6" cy="112.9" r="4.3" fill="#74AE4C"/><circle cx="899.5" cy="129.5" r="4.3" fill="#74AE4C"/><circle cx="909.7" cy="130.6" r="4.3" fill="#74AE4C"/><circle cx="919.2" cy="131.4" r="4.3" fill="#74AE4C"/><circle cx="926.7" cy="132.9" r="4.3" fill="#74AE4C"/>
<circle cx="854.2" cy="110.2" r="4.3" fill="#4E7ED0"/><circle cx="881.8" cy="112.5" r="4.3" fill="#4E7ED0"/><circle cx="898.8" cy="129.1" r="4.3" fill="#4E7ED0"/><circle cx="909.0" cy="130.2" r="4.3" fill="#4E7ED0"/><circle cx="918.4" cy="131.0" r="4.3" fill="#4E7ED0"/><circle cx="926.0" cy="132.5" r="4.3" fill="#4E7ED0"/>
<circle cx="853.1" cy="112.5" r="4.3" fill="#FF2424"/><circle cx="880.7" cy="114.8" r="4.3" fill="#FF2424"/><circle cx="897.7" cy="131.4" r="4.3" fill="#FF2424"/><circle cx="907.9" cy="132.5" r="4.3" fill="#FF2424"/><circle cx="917.3" cy="133.3" r="4.3" fill="#FF2424"/><circle cx="924.8" cy="134.8" r="4.3" fill="#FF2424"/>
<circle cx="852.7" cy="111.0" r="4.3" fill="#62A2DC"/><circle cx="880.3" cy="113.2" r="4.3" fill="#62A2DC"/><circle cx="897.3" cy="129.9" r="4.3" fill="#62A2DC"/><circle cx="907.5" cy="131.0" r="4.3" fill="#62A2DC"/><circle cx="916.9" cy="131.8" r="4.3" fill="#62A2DC"/><circle cx="924.5" cy="133.3" r="4.3" fill="#62A2DC"/>
<circle cx="853.9" cy="111.7" r="4.3" fill="#A04C14"/><circle cx="881.4" cy="114.0" r="4.3" fill="#A04C14"/><circle cx="898.4" cy="130.6" r="4.3" fill="#A04C14"/><circle cx="908.6" cy="131.8" r="4.3" fill="#A04C14"/><circle cx="918.1" cy="132.5" r="4.3" fill="#A04C14"/><circle cx="925.6" cy="134.0" r="4.3" fill="#A04C14"/>
<circle cx="1177.5" cy="79.7" r="6.2" fill="#EE8C52"/>
<text x="1191.5" y="89.3" font-size="23">ROI1</text>
<circle cx="1177.5" cy="104.7" r="6.2" fill="#A9A9A9"/>
<text x="1191.5" y="114.3" font-size="23">ROI2</text>
<circle cx="1177.5" cy="129.6" r="6.2" fill="#FFC528"/>
<text x="1191.5" y="139.2" font-size="23">ROI3</text>
<circle cx="1177.5" cy="154.6" r="6.2" fill="#74AE4C"/>
<text x="1191.5" y="164.2" font-size="23">ROI4</text>
<circle cx="1177.5" cy="179.5" r="6.2" fill="#4E7ED0"/>
<text x="1191.5" y="189.1" font-size="23">ROI5</text>
<circle cx="1177.5" cy="204.5" r="6.2" fill="#FF2424"/>
<text x="1191.5" y="214.1" font-size="23">ROI6</text>
<circle cx="1177.5" cy="229.5" r="6.2" fill="#62A2DC"/>
<text x="1191.5" y="239.1" font-size="23">ROI7</text>
<circle cx="1177.5" cy="254.4" r="6.2" fill="#A04C14"/>
<text x="1191.5" y="264.0" font-size="23">ROI8</text>
<path d="M728.8,529.2V795.7H1039.6" stroke="#000" stroke-width="2.2" fill="none"/>
<path d="M728.8,795.7h9.5M728.8,742.4h9.5M728.8,689.1h9.5M728.8,635.8h9.5M728.8,582.5h9.5M728.8,529.2h9.5M728.8,769.05h7.5M728.8,761.03h7.5M728.8,756.33h7.5M728.8,753.01h7.5M728.8,750.42h7.5M728.8,748.31h7.5M728.8,746.53h7.5M728.8,744.98h7.5M728.8,743.62h7.5M728.8,715.75h7.5M728.8,707.73h7.5M728.8,703.03h7.5M728.8,699.71h7.5M728.8,697.12h7.5M728.8,695.01h7.5M728.8,693.23h7.5M728.8,691.68h7.5M728.8,690.32h7.5M728.8,662.45h7.5M728.8,654.43h7.5M728.8,649.73h7.5M728.8,646.41h7.5M728.8,643.82h7.5M728.8,641.71h7.5M728.8,639.93h7.5M728.8,638.38h7.5M728.8,637.02h7.5M728.8,609.15h7.5M728.8,601.13h7.5M728.8,596.43h7.5M728.8,593.11h7.5M728.8,590.52h7.5M728.8,588.41h7.5M728.8,586.63h7.5M728.8,585.08h7.5M728.8,583.72h7.5M728.8,555.85h7.5M728.8,547.83h7.5M728.8,543.13h7.5M728.8,539.81h7.5M728.8,537.22h7.5M728.8,535.11h7.5M728.8,533.33h7.5M728.8,531.78h7.5M728.8,530.42h7.5M728.8,795.7v-8.5M756.25,795.7v-6.5M772.31,795.7v-6.5M783.71,795.7v-6.5M792.55,795.7v-6.5M799.77,795.7v-6.5M805.87,795.7v-6.5M811.16,795.7v-6.5M815.83,795.7v-6.5M820.0,795.7v-8.5M847.45,795.7v-6.5M863.51,795.7v-6.5M874.91,795.7v-6.5M883.75,795.7v-6.5M890.97,795.7v-6.5M897.07,795.7v-6.5M902.36,795.7v-6.5M907.03,795.7v-6.5M911.2,795.7v-8.5M938.65,795.7v-6.5M954.71,795.7v-6.5M966.11,795.7v-6.5M974.95,795.7v-6.5M982.17,795.7v-6.5M988.27,795.7v-6.5M993.56,795.7v-6.5M998.23,795.7v-6.5M1002.4,795.7v-8.5M1029.85,795.7v-6.5M1039.6,795.7v-7" stroke="#000" stroke-width="2" fill="none"/>
<text x="680.8" y="804.0" font-size="23.5">10<tspan font-size="16" dy="-7.7">-7</tspan></text>
<text x="680.8" y="750.7" font-size="23.5">10<tspan font-size="16" dy="-7.7">-5</tspan></text>
<text x="680.8" y="697.4" font-size="23.5">10<tspan font-size="16" dy="-7.7">-3</tspan></text>
<text x="680.8" y="644.1" font-size="23.5">10<tspan font-size="16" dy="-7.7">-1</tspan></text>
<text x="680.8" y="590.8" font-size="23.5">10<tspan font-size="16" dy="-7.7">1</tspan></text>
<text x="680.8" y="537.5" font-size="23.5">10<tspan font-size="16" dy="-7.7">3</tspan></text>
<text x="728.8" y="826.5" font-size="24" text-anchor="middle">1</text>
<text x="820.0" y="826.5" font-size="24" text-anchor="middle">10</text>
<text x="911.2" y="826.5" font-size="24" text-anchor="middle">100</text>
<text x="1002.4" y="826.5" font-size="24" text-anchor="middle">1000</text>
<text x="890.4" y="858.5" font-size="30.3" text-anchor="middle">Peak intensity ranking</text>
<text transform="translate(664.6,658.1) rotate(-90)" font-size="30.2" text-anchor="middle">Peak intensity (arb. units)</text>
<path d="M755.3,536.5L1031.2,743" stroke="#000" stroke-width="4" stroke-dasharray="11,6" fill="none"/>
<path d="M808.0,590.0 L818.0,594.5 L836.0,601.8 L854.5,612.6 L872.6,627.2 L890.8,640.4 L908.9,655.6 L919.8,670.4 L936.2,685.4 L954.3,700.0 L967.0,710.9 L980.0,719.7 L995.0,729.2 L1008.0,740.8 L1016.0,750.4 L1022.0,760.2 L1026.0,770.0 L1028.0,777.0" stroke="#EE8C52" stroke-width="10" fill="none" stroke-linecap="round" stroke-linejoin="round"/>
<path d="M808.0,590.0 L818.0,594.5 L836.0,601.8 L854.5,612.6 L872.6,627.2 L890.8,639.9 L908.9,654.4 L919.8,668.9 L936.2,683.5 L954.3,698.0 L967.0,709.0 L980.0,718.0 L995.0,728.0 L1008.0,740.0 L1016.0,750.0 L1022.0,760.0 L1026.0,770.0 L1028.0,777.0" stroke="#A9A9A9" stroke-width="10" fill="none" stroke-linecap="round" stroke-linejoin="round"/>
<path d="M808.0,590.0 L818.0,594.5 L836.0,603.3 L854.5,614.5 L872.6,628.0 L890.8,638.4 L908.9,650.5 L919.8,664.0 L936.2,677.6 L954.3,692.2 L967.0,703.8 L980.0,714.0 L995.0,725.9 L1008.0,739.7 L1016.0,750.0 L1022.0,760.0 L1026.0,770.0 L1028.0,777.0" stroke="#FFC528" stroke-width="10" fill="none" stroke-linecap="round" stroke-linejoin="round"/>
<path d="M808.0,590.0 L818.0,594.5 L836.0,604.7 L854.5,613.9 L872.6,627.2 L890.8,639.7 L908.9,650.8 L919.8,663.6 L936.2,676.7 L954.3,691.2 L967.0,703.3 L980.0,714.2 L995.0,727.0 L1008.0,740.0 L1016.0,750.0 L1022.0,760.0 L1023.0,764.0" stroke="#74AE4C" stroke-width="10" fill="none" stroke-linecap="round" stroke-linejoin="round"/>
<path d="M808.0,590.0 L818.0,594.5 L836.0,601.8 L854.5,612.6 L872.6,627.2 L890.8,639.9 L908.9,654.4 L919.8,668.9 L936.2,683.5 L954.3,698.7 L967.0,711.4 L980.0,721.0 L995.0,729.9 L1008.0,740.0" stroke="#4E7ED0" stroke-width="10" fill="none" stroke-linecap="round" stroke-linejoin="round"/>
<path d="M808.0,590.0 L818.0,594.5 L836.0,601.8 L854.5,612.6 L872.6,627.2 L890.8,637.8 L908.9,651.7 L919.8,667.8 L936.2,683.5 L954.3,701.1 L967.0,714.0 L980.0,721.0 L989.0,727.0" stroke="#FF2424" stroke-width="10" fill="none" stroke-linecap="round" stroke-linejoin="round"/>
<path d="M808.0,590.0 L818.0,594.5 L836.0,600.9 L854.5,610.7 L872.6,627.2 L890.8,639.9 L908.9,654.4 L919.8,668.9 L936.2,683.5 L954.3,698.0 L967.0,709.0" stroke="#62A2DC" stroke-width="10" fill="none" stroke-linecap="round" stroke-linejoin="round"/>
<circle cx="728.8" cy="549.9" r="3.3" fill="none" stroke="#EE8C52" stroke-width="2.1"/><circle cx="755.3" cy="551.0" r="3.3" fill="none" stroke="#EE8C52" stroke-width="2.1"/><circle cx="772.3" cy="559.0" r="3.3" fill="none" stroke="#EE8C52" stroke-width="2.1"/><circle cx="784.3" cy="568.1" r="3.3" fill="none" stroke="#EE8C52" stroke-width="2.1"/><circle cx="793.4" cy="572.8" r="3.3" fill="none" stroke="#EE8C52" stroke-width="2.1"/><circle cx="799.6" cy="579.0" r="3.3" fill="none" stroke="#EE8C52" stroke-width="2.1"/><circle cx="806.1" cy="588.0" r="3.3" fill="none" stroke="#EE8C52" stroke-width="2.1"/>
<circle cx="728.8" cy="549.9" r="3.3" fill="none" stroke="#A9A9A9" stroke-width="2.1"/><circle cx="755.3" cy="551.0" r="3.3" fill="none" stroke="#A9A9A9" stroke-width="2.1"/><circle cx="772.3" cy="559.0" r="3.3" fill="none" stroke="#A9A9A9" stroke-width="2.1"/><circle cx="784.3" cy="568.1" r="3.3" fill="none" stroke="#A9A9A9" stroke-width="2.1"/><circle cx="793.4" cy="572.8" r="3.3" fill="none" stroke="#A9A9A9" stroke-width="2.1"/><circle cx="799.6" cy="579.0" r="3.3" fill="none" stroke="#A9A9A9" stroke-width="2.1"/><circle cx="806.1" cy="588.0" r="3.3" fill="none" stroke="#A9A9A9" stroke-width="2.1"/>
<circle cx="728.8" cy="551.0" r="3.3" fill="none" stroke="#FFC528" stroke-width="2.1"/><circle cx="755.3" cy="552.1" r="3.3" fill="none" stroke="#FFC528" stroke-width="2.1"/><circle cx="772.3" cy="560.1" r="3.3" fill="none" stroke="#FFC528" stroke-width="2.1"/><circle cx="784.3" cy="569.2" r="3.3" fill="none" stroke="#FFC528" stroke-width="2.1"/><circle cx="793.4" cy="573.9" r="3.3" fill="none" stroke="#FFC528" stroke-width="2.1"/><circle cx="799.6" cy="580.1" r="3.3" fill="none" stroke="#FFC528" stroke-width="2.1"/><circle cx="806.1" cy="589.1" r="3.3" fill="none" stroke="#FFC528" stroke-width="2.1"/>
<circle cx="728.8" cy="549.9" r="3.3" fill="none" stroke="#74AE4C" stroke-width="2.1"/><circle cx="755.3" cy="551.0" r="3.3" fill="none" stroke="#74AE4C" stroke-width="2.1"/><circle cx="772.3" cy="559.0" r="3.3" fill="none" stroke="#74AE4C" stroke-width="2.1"/><circle cx="784.3" cy="568.1" r="3.3" fill="none" stroke="#74AE4C" stroke-width="2.1"/><circle cx="793.4" cy="572.8" r="3.3" fill="none" stroke="#74AE4C" stroke-width="2.1"/><circle cx="799.6" cy="579.0" r="3.3" fill="none" stroke="#74AE4C" stroke-width="2.1"/><circle cx="806.1" cy="588.0" r="3.3" fill="none" stroke="#74AE4C" stroke-width="2.1"/>
<circle cx="728.8" cy="549.9" r="3.3" fill="none" stroke="#FF2424" stroke-width="2.1"/><circle cx="755.3" cy="551.0" r="3.3" fill="none" stroke="#FF2424" stroke-width="2.1"/><circle cx="772.3" cy="559.0" r="3.3" fill="none" stroke="#FF2424" stroke-width="2.1"/><circle cx="784.3" cy="568.1" r="3.3" fill="none" stroke="#FF2424" stroke-width="2.1"/><circle cx="793.4" cy="572.8" r="3.3" fill="none" stroke="#FF2424" stroke-width="2.1"/><circle cx="799.6" cy="579.0" r="3.3" fill="none" stroke="#FF2424" stroke-width="2.1"/><circle cx="806.1" cy="588.0" r="3.3" fill="none" stroke="#FF2424" stroke-width="2.1"/>
<circle cx="728.8" cy="549.9" r="3.3" fill="none" stroke="#4E7ED0" stroke-width="2.1"/><circle cx="755.3" cy="551.0" r="3.3" fill="none" stroke="#4E7ED0" stroke-width="2.1"/><circle cx="772.3" cy="559.0" r="3.3" fill="none" stroke="#4E7ED0" stroke-width="2.1"/><circle cx="784.3" cy="568.1" r="3.3" fill="none" stroke="#4E7ED0" stroke-width="2.1"/><circle cx="793.4" cy="572.8" r="3.3" fill="none" stroke="#4E7ED0" stroke-width="2.1"/><circle cx="799.6" cy="579.0" r="3.3" fill="none" stroke="#4E7ED0" stroke-width="2.1"/><circle cx="806.1" cy="588.0" r="3.3" fill="none" stroke="#4E7ED0" stroke-width="2.1"/>
<circle cx="728.8" cy="549.9" r="3.3" fill="none" stroke="#62A2DC" stroke-width="2.1"/><circle cx="755.3" cy="551.0" r="3.3" fill="none" stroke="#62A2DC" stroke-width="2.1"/><circle cx="772.3" cy="559.0" r="3.3" fill="none" stroke="#62A2DC" stroke-width="2.1"/><circle cx="784.3" cy="568.1" r="3.3" fill="none" stroke="#62A2DC" stroke-width="2.1"/><circle cx="793.4" cy="572.8" r="3.3" fill="none" stroke="#62A2DC" stroke-width="2.1"/><circle cx="799.6" cy="579.0" r="3.3" fill="none" stroke="#62A2DC" stroke-width="2.1"/><circle cx="806.1" cy="588.0" r="3.3" fill="none" stroke="#62A2DC" stroke-width="2.1"/>
<circle cx="728.8" cy="549.9" r="1.6" fill="none" stroke="#9a4a78" stroke-width="1"/><circle cx="755.3" cy="551.0" r="1.6" fill="none" stroke="#9a4a78" stroke-width="1"/><circle cx="772.3" cy="559.0" r="1.6" fill="none" stroke="#9a4a78" stroke-width="1"/><circle cx="784.3" cy="568.1" r="1.6" fill="none" stroke="#9a4a78" stroke-width="1"/><circle cx="793.4" cy="572.8" r="1.6" fill="none" stroke="#9a4a78" stroke-width="1"/><circle cx="799.6" cy="579.0" r="1.6" fill="none" stroke="#9a4a78" stroke-width="1"/><circle cx="806.1" cy="588.0" r="1.6" fill="none" stroke="#9a4a78" stroke-width="1"/>
<circle cx="1039.6" cy="522.0" r="6.8" fill="#EE8C52"/>
<text x="1051.5" y="530.2" font-size="24">ROI1</text>
<circle cx="1039.6" cy="551.8" r="6.8" fill="#A9A9A9"/>
<text x="1051.5" y="560.0" font-size="24">ROI2</text>
<circle cx="1039.6" cy="581.6" r="6.8" fill="#FFC528"/>
<text x="1051.5" y="589.8" font-size="24">ROI3</text>
<circle cx="1039.6" cy="611.4" r="6.8" fill="#74AE4C"/>
<text x="1051.5" y="619.6" font-size="24">ROI4</text>
<circle cx="1039.6" cy="641.2" r="6.8" fill="#4E7ED0"/>
<text x="1051.5" y="649.4" font-size="24">ROI5</text>
<circle cx="1039.6" cy="671.0" r="6.8" fill="#FF2424"/>
<text x="1051.5" y="679.2" font-size="24">ROI6</text>
<circle cx="1039.6" cy="700.8" r="6.8" fill="#62A2DC"/>
<text x="1051.5" y="709.0" font-size="24">ROI7</text>
<path d="M716.4,1039.2V1305.0H1025.8" stroke="#000" stroke-width="2.2" fill="none"/>
<path d="M716.4,1305.0h9.5M716.4,1251.8h9.5M716.4,1198.7h9.5M716.4,1145.5h9.5M716.4,1092.4h9.5M716.4,1039.2h9.5M716.4,1278.42h7.5M716.4,1270.42h7.5M716.4,1265.74h7.5M716.4,1262.42h7.5M716.4,1259.84h7.5M716.4,1257.74h7.5M716.4,1255.96h7.5M716.4,1254.42h7.5M716.4,1253.06h7.5M716.4,1225.26h7.5M716.4,1217.26h7.5M716.4,1212.58h7.5M716.4,1209.26h7.5M716.4,1206.68h7.5M716.4,1204.58h7.5M716.4,1202.80h7.5M716.4,1201.26h7.5M716.4,1199.90h7.5M716.4,1172.10h7.5M716.4,1164.10h7.5M716.4,1159.42h7.5M716.4,1156.10h7.5M716.4,1153.52h7.5M716.4,1151.42h7.5M716.4,1149.64h7.5M716.4,1148.10h7.5M716.4,1146.74h7.5M716.4,1118.94h7.5M716.4,1110.94h7.5M716.4,1106.26h7.5M716.4,1102.94h7.5M716.4,1100.36h7.5M716.4,1098.26h7.5M716.4,1096.48h7.5M716.4,1094.94h7.5M716.4,1093.58h7.5M716.4,1065.78h7.5M716.4,1057.78h7.5M716.4,1053.10h7.5M716.4,1049.78h7.5M716.4,1047.20h7.5M716.4,1045.10h7.5M716.4,1043.32h7.5M716.4,1041.78h7.5M716.4,1040.42h7.5M716.4,1305.0v-8.5M743.79,1305.0v-6.5M759.82,1305.0v-6.5M771.19,1305.0v-6.5M780.01,1305.0v-6.5M787.21,1305.0v-6.5M793.30,1305.0v-6.5M798.58,1305.0v-6.5M803.24,1305.0v-6.5M807.4,1305.0v-8.5M834.79,1305.0v-6.5M850.82,1305.0v-6.5M862.19,1305.0v-6.5M871.01,1305.0v-6.5M878.21,1305.0v-6.5M884.30,1305.0v-6.5M889.58,1305.0v-6.5M894.24,1305.0v-6.5M898.4,1305.0v-8.5M925.79,1305.0v-6.5M941.82,1305.0v-6.5M953.19,1305.0v-6.5M962.01,1305.0v-6.5M969.21,1305.0v-6.5M975.30,1305.0v-6.5M980.58,1305.0v-6.5M985.24,1305.0v-6.5M989.4,1305.0v-8.5M1016.79,1305.0v-6.5M1025.8,1305.0v-7" stroke="#000" stroke-width="2" fill="none"/>
<text x="674.6" y="1313.3" font-size="23.5">10<tspan font-size="16" dy="-7.7">-7</tspan></text>
<text x="674.6" y="1260.1" font-size="23.5">10<tspan font-size="16" dy="-7.7">-5</tspan></text>
<text x="674.6" y="1207.0" font-size="23.5">10<tspan font-size="16" dy="-7.7">-3</tspan></text>
<text x="674.6" y="1153.8" font-size="23.5">10<tspan font-size="16" dy="-7.7">-1</tspan></text>
<text x="674.6" y="1100.7" font-size="23.5">10<tspan font-size="16" dy="-7.7">1</tspan></text>
<text x="674.6" y="1047.5" font-size="23.5">10<tspan font-size="16" dy="-7.7">3</tspan></text>
<text x="716.4" y="1336.0" font-size="24" text-anchor="middle">1</text>
<text x="807.4" y="1336.0" font-size="24" text-anchor="middle">10</text>
<text x="898.4" y="1336.0" font-size="24" text-anchor="middle">100</text>
<text x="989.4" y="1336.0" font-size="24" text-anchor="middle">1000</text>
<text x="880.2" y="1363.1" font-size="30.3" text-anchor="middle">Peak intensity ranking</text>
<text transform="translate(660.8,1170.0) rotate(-90)" font-size="30.2" text-anchor="middle">Peak intensity (arb. units)</text>
<path d="M757.8,1040L1013,1230.6" stroke="#000" stroke-width="4" stroke-dasharray="11,6" fill="none"/>
<path d="M802.5,1095.1 L811.6,1097.3 L822.4,1099.9 L833.3,1103.5 L847.9,1108.9 L862.4,1116.2 L876.9,1123.5 L891.4,1134.4 L906.0,1148.9 L920.5,1159.8 L935.0,1174.3 L949.5,1188.8 L960.4,1199.7 L971.3,1210.6 L985.8,1225.1 L1000.4,1236.0 L1011.3,1243.3 L1013.1,1254.2 L1013.1,1272.3" stroke="#EE8C52" stroke-width="10" fill="none" stroke-linecap="round" stroke-linejoin="round"/>
<path d="M802.5,1095.1 L811.6,1097.3 L822.4,1099.9 L833.3,1103.5 L847.9,1108.9 L862.4,1116.2 L876.9,1123.5 L891.4,1134.4 L906.0,1148.9 L920.5,1159.8 L935.0,1174.3 L949.5,1188.8 L960.4,1199.7 L971.3,1210.6 L985.8,1225.1 L1000.4,1236.0 L1011.3,1243.3 L1014.2,1254.2 L1014.9,1266.9" stroke="#A9A9A9" stroke-width="10" fill="none" stroke-linecap="round" stroke-linejoin="round"/>
<path d="M802.5,1095.1 L811.6,1098.8 L822.4,1103.4 L833.3,1108.5 L847.9,1114.7 L862.4,1121.2 L876.9,1126.4 L891.4,1134.4 L906.0,1148.9 L920.5,1159.8 L935.0,1174.3 L949.5,1188.8 L960.4,1199.7 L971.3,1210.6 L985.8,1227.5 L1000.4,1238.4 L1011.3,1243.3 L1014.9,1250.5 L1015.6,1262.2" stroke="#FFC528" stroke-width="10" fill="none" stroke-linecap="round" stroke-linejoin="round"/>
<path d="M802.5,1095.1 L811.6,1097.3 L822.4,1099.9 L833.3,1103.5 L847.9,1108.9 L862.4,1116.2 L876.9,1123.5 L891.4,1134.4 L906.0,1148.9 L920.5,1159.8 L935.0,1174.3 L949.5,1188.8 L960.4,1198.8 L971.3,1207.4 L985.8,1220.8 L1000.4,1233.5 L1011.3,1243.3 L1017.8,1241.5 L1020.3,1249.8" stroke="#74AE4C" stroke-width="10" fill="none" stroke-linecap="round" stroke-linejoin="round"/>
<path d="M802.5,1095.1 L811.6,1097.3 L822.4,1099.9 L833.3,1103.5 L847.9,1108.9 L862.4,1116.2 L876.9,1123.5 L891.4,1134.4 L906.0,1148.9 L920.5,1157.3 L935.0,1170.0 L949.5,1183.7 L960.4,1194.9 L971.3,1206.7 L985.8,1223.3 L996.7,1237.8" stroke="#4E7ED0" stroke-width="10" fill="none" stroke-linecap="round" stroke-linejoin="round"/>
<path d="M802.5,1095.1 L811.6,1097.3 L822.4,1099.9 L833.3,1103.5 L847.9,1108.9 L862.4,1116.2 L876.9,1123.5 L891.4,1134.4 L906.0,1148.9 L920.5,1159.8 L935.0,1174.3 L949.5,1191.7 L960.4,1203.2 L971.3,1212.2" stroke="#FF2424" stroke-width="10" fill="none" stroke-linecap="round" stroke-linejoin="round"/>
<path d="M802.5,1095.1 L811.6,1097.3 L822.4,1099.9 L833.3,1103.5 L847.9,1108.9 L862.4,1116.2 L876.9,1123.5 L891.4,1134.4 L906.0,1148.9 L920.5,1159.8 L935.0,1174.3 L949.5,1188.8" stroke="#62A2DC" stroke-width="10" fill="none" stroke-linecap="round" stroke-linejoin="round"/>
<circle cx="716.4" cy="1058.1" r="3.3" fill="none" stroke="#EE8C52" stroke-width="2.1"/><circle cx="743.7" cy="1059.2" r="3.3" fill="none" stroke="#EE8C52" stroke-width="2.1"/><circle cx="758.9" cy="1074.4" r="3.3" fill="none" stroke="#EE8C52" stroke-width="2.1"/><circle cx="770.9" cy="1081.7" r="3.3" fill="none" stroke="#EE8C52" stroke-width="2.1"/><circle cx="778.9" cy="1082.8" r="3.3" fill="none" stroke="#EE8C52" stroke-width="2.1"/><circle cx="786.1" cy="1092.6" r="3.3" fill="none" stroke="#EE8C52" stroke-width="2.1"/><circle cx="792.3" cy="1093.7" r="3.3" fill="none" stroke="#EE8C52" stroke-width="2.1"/><circle cx="797.0" cy="1095.1" r="3.3" fill="none" stroke="#EE8C52" stroke-width="2.1"/>
<circle cx="716.4" cy="1058.1" r="3.3" fill="none" stroke="#A9A9A9" stroke-width="2.1"/><circle cx="743.7" cy="1059.2" r="3.3" fill="none" stroke="#A9A9A9" stroke-width="2.1"/><circle cx="758.9" cy="1074.4" r="3.3" fill="none" stroke="#A9A9A9" stroke-width="2.1"/><circle cx="770.9" cy="1081.7" r="3.3" fill="none" stroke="#A9A9A9" stroke-width="2.1"/><circle cx="778.9" cy="1082.8" r="3.3" fill="none" stroke="#A9A9A9" stroke-width="2.1"/><circle cx="786.1" cy="1092.6" r="3.3" fill="none" stroke="#A9A9A9" stroke-width="2.1"/><circle cx="792.3" cy="1093.7" r="3.3" fill="none" stroke="#A9A9A9" stroke-width="2.1"/><circle cx="797.0" cy="1095.1" r="3.3" fill="none" stroke="#A9A9A9" stroke-width="2.1"/>
<circle cx="716.4" cy="1058.1" r="3.3" fill="none" stroke="#FFC528" stroke-width="2.1"/><circle cx="743.7" cy="1059.2" r="3.3" fill="none" stroke="#FFC528" stroke-width="2.1"/><circle cx="758.9" cy="1074.4" r="3.3" fill="none" stroke="#FFC528" stroke-width="2.1"/><circle cx="770.9" cy="1081.7" r="3.3" fill="none" stroke="#FFC528" stroke-width="2.1"/><circle cx="778.9" cy="1082.8" r="3.3" fill="none" stroke="#FFC528" stroke-width="2.1"/><circle cx="786.1" cy="1092.6" r="3.3" fill="none" stroke="#FFC528" stroke-width="2.1"/><circle cx="792.3" cy="1093.7" r="3.3" fill="none" stroke="#FFC528" stroke-width="2.1"/><circle cx="797.0" cy="1095.1" r="3.3" fill="none" stroke="#FFC528" stroke-width="2.1"/>
<circle cx="716.4" cy="1058.1" r="3.3" fill="none" stroke="#74AE4C" stroke-width="2.1"/><circle cx="743.7" cy="1059.2" r="3.3" fill="none" stroke="#74AE4C" stroke-width="2.1"/><circle cx="758.9" cy="1074.4" r="3.3" fill="none" stroke="#74AE4C" stroke-width="2.1"/><circle cx="770.9" cy="1081.7" r="3.3" fill="none" stroke="#74AE4C" stroke-width="2.1"/><circle cx="778.9" cy="1082.8" r="3.3" fill="none" stroke="#74AE4C" stroke-width="2.1"/><circle cx="786.1" cy="1092.6" r="3.3" fill="none" stroke="#74AE4C" stroke-width="2.1"/><circle cx="792.3" cy="1093.7" r="3.3" fill="none" stroke="#74AE4C" stroke-width="2.1"/><circle cx="797.0" cy="1095.1" r="3.3" fill="none" stroke="#74AE4C" stroke-width="2.1"/>
<circle cx="716.4" cy="1058.1" r="3.3" fill="none" stroke="#FF2424" stroke-width="2.1"/><circle cx="743.7" cy="1059.2" r="3.3" fill="none" stroke="#FF2424" stroke-width="2.1"/><circle cx="758.9" cy="1074.4" r="3.3" fill="none" stroke="#FF2424" stroke-width="2.1"/><circle cx="770.9" cy="1081.7" r="3.3" fill="none" stroke="#FF2424" stroke-width="2.1"/><circle cx="778.9" cy="1082.8" r="3.3" fill="none" stroke="#FF2424" stroke-width="2.1"/><circle cx="786.1" cy="1092.6" r="3.3" fill="none" stroke="#FF2424" stroke-width="2.1"/><circle cx="792.3" cy="1093.7" r="3.3" fill="none" stroke="#FF2424" stroke-width="2.1"/><circle cx="797.0" cy="1095.1" r="3.3" fill="none" stroke="#FF2424" stroke-width="2.1"/>
<circle cx="716.4" cy="1058.1" r="3.3" fill="none" stroke="#4E7ED0" stroke-width="2.1"/><circle cx="743.7" cy="1059.2" r="3.3" fill="none" stroke="#4E7ED0" stroke-width="2.1"/><circle cx="758.9" cy="1074.4" r="3.3" fill="none" stroke="#4E7ED0" stroke-width="2.1"/><circle cx="770.9" cy="1081.7" r="3.3" fill="none" stroke="#4E7ED0" stroke-width="2.1"/><circle cx="778.9" cy="1082.8" r="3.3" fill="none" stroke="#4E7ED0" stroke-width="2.1"/><circle cx="786.1" cy="1092.6" r="3.3" fill="none" stroke="#4E7ED0" stroke-width="2.1"/><circle cx="792.3" cy="1093.7" r="3.3" fill="none" stroke="#4E7ED0" stroke-width="2.1"/><circle cx="797.0" cy="1095.1" r="3.3" fill="none" stroke="#4E7ED0" stroke-width="2.1"/>
<circle cx="716.4" cy="1058.1" r="3.3" fill="none" stroke="#62A2DC" stroke-width="2.1"/><circle cx="743.7" cy="1059.2" r="3.3" fill="none" stroke="#62A2DC" stroke-width="2.1"/><circle cx="758.9" cy="1074.4" r="3.3" fill="none" stroke="#62A2DC" stroke-width="2.1"/><circle cx="770.9" cy="1081.7" r="3.3" fill="none" stroke="#62A2DC" stroke-width="2.1"/><circle cx="778.9" cy="1082.8" r="3.3" fill="none" stroke="#62A2DC" stroke-width="2.1"/><circle cx="786.1" cy="1092.6" r="3.3" fill="none" stroke="#62A2DC" stroke-width="2.1"/><circle cx="792.3" cy="1093.7" r="3.3" fill="none" stroke="#62A2DC" stroke-width="2.1"/><circle cx="797.0" cy="1095.1" r="3.3" fill="none" stroke="#62A2DC" stroke-width="2.1"/>
<circle cx="716.4" cy="1058.1" r="1.6" fill="none" stroke="#9a4a78" stroke-width="1"/><circle cx="743.7" cy="1059.2" r="1.6" fill="none" stroke="#9a4a78" stroke-width="1"/><circle cx="758.9" cy="1074.4" r="1.6" fill="none" stroke="#9a4a78" stroke-width="1"/><circle cx="770.9" cy="1081.7" r="1.6" fill="none" stroke="#9a4a78" stroke-width="1"/><circle cx="778.9" cy="1082.8" r="1.6" fill="none" stroke="#9a4a78" stroke-width="1"/><circle cx="786.1" cy="1092.6" r="1.6" fill="none" stroke="#9a4a78" stroke-width="1"/><circle cx="792.3" cy="1093.7" r="1.6" fill="none" stroke="#9a4a78" stroke-width="1"/><circle cx="797.0" cy="1095.1" r="1.6" fill="none" stroke="#9a4a78" stroke-width="1"/>
<circle cx="1034.9" cy="1027.6" r="6.8" fill="#EE8C52"/>
<text x="1048.3" y="1035.6" font-size="24">ROI1</text>
<circle cx="1034.9" cy="1054.6" r="6.8" fill="#A9A9A9"/>
<text x="1048.3" y="1062.6" font-size="24">ROI2</text>
<circle cx="1034.9" cy="1081.7" r="6.8" fill="#FFC528"/>
<text x="1048.3" y="1089.7" font-size="24">ROI3</text>
<circle cx="1034.9" cy="1108.8" r="6.8" fill="#74AE4C"/>
<text x="1048.3" y="1116.8" font-size="24">ROI4</text>
<circle cx="1034.9" cy="1135.8" r="6.8" fill="#4E7ED0"/>
<text x="1048.3" y="1143.8" font-size="24">ROI5</text>
<circle cx="1034.9" cy="1162.8" r="6.8" fill="#FF2424"/>
<text x="1048.3" y="1170.8" font-size="24">ROI6</text>
<circle cx="1034.9" cy="1189.9" r="6.8" fill="#62A2DC"/>
<text x="1048.3" y="1197.9" font-size="24">ROI7</text>
<text x="347.5" y="1465.8" font-size="37" text-anchor="middle">Liver vs. Brain</text>
<path d="M270.6,1511.1V1694.1M230.3,1547.7H431.6M310.8,1511.1V1694.1M230.3,1584.3H431.6M351.1,1511.1V1694.1M230.3,1620.9H431.6M391.3,1511.1V1694.1M230.3,1657.5H431.6" stroke="#D6D6D6" stroke-width="1.8" fill="none"/>
<path d="M230.3,1694.1H431.6V1511.1H230.3Z" stroke="#D6D6D6" stroke-width="2" fill="none"/>
<path d="M230.3,1511.1V1694.1H431.6" stroke="#C4C4C4" stroke-width="2.2" fill="none"/>
<path d="M230.3,1694.1L431.6,1511.1" stroke="#000" stroke-width="4.4" stroke-dasharray="14,8" fill="none"/>
<path d="M259.7,1642.9 L259.7,1649.4 L262.5,1653.3 L270.6,1655.3 L283.6,1651.4 L295.3,1645.6 L295.9,1645.3 L296.4,1645.1 L297.1,1645.0 L297.7,1644.9 L315.6,1643.4 L327.8,1641.0 L332.4,1634.1 L332.7,1633.8 L341.6,1621.9 L347.5,1611.6 L347.9,1610.9 L357.1,1598.7 L357.3,1598.4 L366.4,1587.8 L371.0,1582.0 L371.0,1577.8 L368.7,1575.6 L359.7,1575.6 L342.2,1578.5 L325.5,1582.7 L308.2,1595.6 L307.7,1595.9 L307.2,1596.2 L306.7,1596.4 L291.9,1602.4 L279.9,1609.0 L270.1,1624.4 L269.7,1625.0 L269.2,1625.5 L261.5,1633.2 L259.7,1642.9Z" fill="#24557F"/>
<g fill="none" stroke="#24557F" stroke-width="2.4"><circle cx="278.7" cy="1616.5" r="4.6"/><circle cx="330.5" cy="1640.4" r="4.6"/><circle cx="308.4" cy="1644.6" r="4.6"/><circle cx="310.4" cy="1596.7" r="4.6"/><circle cx="346.3" cy="1607.0" r="4.6"/><circle cx="265.7" cy="1626.5" r="4.6"/><circle cx="272.4" cy="1627.7" r="4.6"/><circle cx="292.6" cy="1648.2" r="4.6"/><circle cx="281.7" cy="1606.5" r="4.6"/><circle cx="268.9" cy="1657.0" r="4.6"/><circle cx="280.1" cy="1653.7" r="4.6"/><circle cx="261.7" cy="1654.8" r="4.6"/><circle cx="363.9" cy="1590.4" r="4.6"/><circle cx="323.8" cy="1584.2" r="4.6"/><circle cx="337.6" cy="1622.7" r="4.6"/><circle cx="259.3" cy="1650.3" r="4.6"/><circle cx="305.7" cy="1640.2" r="4.6"/><circle cx="342.7" cy="1622.4" r="4.6"/><circle cx="313.1" cy="1592.6" r="4.6"/><circle cx="273.1" cy="1615.2" r="4.6"/><circle cx="293.9" cy="1644.3" r="4.6"/><circle cx="358.7" cy="1576.6" r="4.6"/><circle cx="288.9" cy="1602.4" r="4.6"/><circle cx="331.8" cy="1634.0" r="4.6"/><circle cx="282.0" cy="1649.4" r="4.6"/><circle cx="319.7" cy="1640.2" r="4.6"/><circle cx="356.7" cy="1602.6" r="4.6"/><circle cx="351.3" cy="1578.5" r="4.6"/><circle cx="367.6" cy="1580.4" r="4.6"/><circle cx="293.5" cy="1605.4" r="4.6"/><circle cx="337.6" cy="1578.6" r="4.6"/><circle cx="364.8" cy="1584.0" r="4.6"/><circle cx="318.8" cy="1586.6" r="4.6"/><circle cx="356.9" cy="1592.8" r="4.6"/><circle cx="278.3" cy="1611.6" r="4.6"/><circle cx="287.2" cy="1650.4" r="4.6"/><circle cx="352.0" cy="1607.5" r="4.6"/><circle cx="284.2" cy="1653.2" r="4.6"/><circle cx="371.2" cy="1575.0" r="4.6"/><circle cx="287.1" cy="1607.1" r="4.6"/><circle cx="326.7" cy="1637.5" r="4.6"/><circle cx="299.7" cy="1597.3" r="4.6"/><circle cx="344.2" cy="1577.3" r="4.6"/><circle cx="265.8" cy="1649.9" r="4.6"/><circle cx="327.4" cy="1582.8" r="4.6"/><circle cx="267.3" cy="1630.5" r="4.6"/><circle cx="306.6" cy="1595.0" r="4.6"/><circle cx="299.7" cy="1603.9" r="4.6"/><circle cx="359.7" cy="1596.9" r="4.6"/><circle cx="303.1" cy="1601.7" r="4.6"/><circle cx="300.4" cy="1640.7" r="4.6"/><circle cx="257.4" cy="1642.8" r="4.6"/><circle cx="340.5" cy="1581.3" r="4.6"/><circle cx="293.4" cy="1599.4" r="4.6"/><circle cx="336.0" cy="1633.2" r="4.6"/><circle cx="334.0" cy="1624.7" r="4.6"/><circle cx="263.3" cy="1632.0" r="4.6"/><circle cx="318.4" cy="1593.4" r="4.6"/><circle cx="316.0" cy="1644.8" r="4.6"/><circle cx="367.9" cy="1587.8" r="4.6"/><circle cx="302.9" cy="1644.6" r="4.6"/><circle cx="282.2" cy="1612.8" r="4.6"/><circle cx="362.7" cy="1574.8" r="4.6"/><circle cx="330.8" cy="1580.7" r="4.6"/><circle cx="274.8" cy="1622.5" r="4.6"/><circle cx="322.4" cy="1643.6" r="4.6"/><circle cx="344.3" cy="1618.4" r="4.6"/><circle cx="347.0" cy="1613.9" r="4.6"/><circle cx="370.1" cy="1584.4" r="4.6"/><circle cx="372.8" cy="1578.6" r="4.6"/><circle cx="270.2" cy="1651.0" r="4.6"/><circle cx="263.0" cy="1644.0" r="4.6"/><circle cx="263.8" cy="1637.9" r="4.6"/><circle cx="344.8" cy="1581.7" r="4.6"/><circle cx="259.0" cy="1638.4" r="4.6"/><circle cx="312.6" cy="1642.5" r="4.6"/><circle cx="352.0" cy="1598.8" r="4.6"/><circle cx="333.5" cy="1629.8" r="4.6"/><circle cx="274.7" cy="1654.9" r="4.6"/><circle cx="340.6" cy="1614.9" r="4.6"/><circle cx="327.4" cy="1643.0" r="4.6"/><circle cx="335.8" cy="1582.1" r="4.6"/><circle cx="360.5" cy="1588.1" r="4.6"/><circle cx="287.0" cy="1646.1" r="4.6"/><circle cx="275.8" cy="1650.1" r="4.6"/><circle cx="343.3" cy="1611.5" r="4.6"/><circle cx="361.0" cy="1593.0" r="4.6"/><circle cx="366.9" cy="1574.3" r="4.6"/><circle cx="332.6" cy="1584.5" r="4.6"/><circle cx="349.1" cy="1604.1" r="4.6"/><circle cx="270.5" cy="1622.5" r="4.6"/><circle cx="324.0" cy="1589.1" r="4.6"/><circle cx="337.6" cy="1628.8" r="4.6"/><circle cx="354.6" cy="1575.6" r="4.6"/><circle cx="298.8" cy="1646.6" r="4.6"/><circle cx="355.8" cy="1598.2" r="4.6"/><circle cx="259.3" cy="1633.1" r="4.6"/><circle cx="284.9" cy="1603.9" r="4.6"/><circle cx="363.1" cy="1579.8" r="4.6"/><circle cx="303.7" cy="1597.7" r="4.6"/><circle cx="308.0" cy="1599.8" r="4.6"/><circle cx="348.7" cy="1575.4" r="4.6"/><circle cx="340.4" cy="1618.9" r="4.6"/><circle cx="340.6" cy="1626.0" r="4.6"/><circle cx="265.8" cy="1654.2" r="4.6"/><circle cx="315.2" cy="1639.3" r="4.6"/><circle cx="349.0" cy="1581.8" r="4.6"/><circle cx="297.4" cy="1600.7" r="4.6"/><circle cx="313.5" cy="1588.5" r="4.6"/><circle cx="271.1" cy="1618.6" r="4.6"/><circle cx="349.0" cy="1610.2" r="4.6"/><circle cx="355.1" cy="1580.4" r="4.6"/><circle cx="296.1" cy="1640.8" r="4.6"/><circle cx="327.9" cy="1633.4" r="4.6"/><circle cx="277.6" cy="1574.4" r="4.6"/><circle cx="283.7" cy="1574.4" r="4.6"/><circle cx="290.6" cy="1565.2" r="4.6"/><circle cx="296.7" cy="1565.2" r="4.6"/><circle cx="307.4" cy="1558.4" r="4.6"/><circle cx="313.5" cy="1555.3" r="4.6"/><circle cx="316.5" cy="1554.6" r="4.6"/><circle cx="304.3" cy="1572.1" r="4.6"/><circle cx="321.1" cy="1570.6" r="4.6"/><circle cx="322.6" cy="1572.1" r="4.6"/><circle cx="279.9" cy="1588.1" r="4.6"/><circle cx="284.5" cy="1588.1" r="4.6"/><circle cx="295.2" cy="1576.7" r="4.6"/><circle cx="379.0" cy="1591.2" r="4.6"/><circle cx="363.8" cy="1605.7" r="4.6"/><circle cx="363.8" cy="1617.1" r="4.6"/><circle cx="371.4" cy="1644.5" r="4.6"/><circle cx="287.5" cy="1672.8" r="4.6"/><circle cx="292.1" cy="1665.1" r="4.6"/><circle cx="331.8" cy="1652.9" r="4.6"/><circle cx="316.5" cy="1651.4" r="4.6"/><circle cx="383.6" cy="1572.1" r="4.6"/><circle cx="389.7" cy="1565.2" r="4.6"/><circle cx="385.1" cy="1543.1" r="4.6"/><circle cx="391.2" cy="1541.6" r="4.6"/><circle cx="400.4" cy="1538.6" r="4.6"/><circle cx="401.9" cy="1546.2" r="4.6"/><circle cx="392.8" cy="1552.3" r="4.6"/><circle cx="377.5" cy="1555.3" r="4.6"/><circle cx="370.6" cy="1556.1" r="4.6"/><circle cx="415.6" cy="1527.1" r="4.6"/><circle cx="414.1" cy="1527.9" r="4.6"/><circle cx="388.2" cy="1555.3" r="4.6"/><circle cx="382.1" cy="1564.5" r="4.6"/><circle cx="356.2" cy="1564.5" r="4.6"/><circle cx="359.2" cy="1563.0" r="4.6"/><circle cx="266.2" cy="1617.9" r="4.6"/><circle cx="258.6" cy="1630.1" r="4.6"/></g>
<path d="M147.7,1497.6V1704.0M138.4,1506.3H195.1V1497.6M138.4,1506.3H147.7M138.4,1545.8H147.7M138.4,1585.4H147.7M138.4,1624.9H147.7M138.4,1664.5H147.7M138.4,1704.0H147.7" stroke="#D6D6D6" stroke-width="1.8" fill="none"/>
<rect x="148.6" y="1598.9" width="5.1" height="13.1" fill="#C00000"/>
<rect x="148.6" y="1638.1" width="40.5" height="13.7" fill="#C00000"/>
<rect x="148.6" y="1677.4" width="11.1" height="13.6" fill="#C00000"/>
<text x="146.4" y="1488.0" font-size="21.5" text-anchor="middle">0</text>
<text x="190.5" y="1488.0" font-size="21.5" text-anchor="middle">800</text>
<text x="99.5" y="1517.2" font-size="21" text-anchor="start">10<tspan font-size="14" dy="-7.0">3</tspan></text>
<text x="99.5" y="1558.3" font-size="21" text-anchor="start">10<tspan font-size="14" dy="-7.0">1</tspan></text>
<text x="99.5" y="1599.4" font-size="21" text-anchor="start">10<tspan font-size="14" dy="-7.0">-1</tspan></text>
<text x="99.5" y="1640.4" font-size="21" text-anchor="start">10<tspan font-size="14" dy="-7.0">-3</tspan></text>
<text x="99.5" y="1681.5" font-size="21" text-anchor="start">10<tspan font-size="14" dy="-7.0">-5</tspan></text>
<text x="99.5" y="1722.6" font-size="21" text-anchor="start">10<tspan font-size="14" dy="-7.0">-7</tspan></text>
<text transform="translate(86.7,1606.3) rotate(-90)" font-size="31" text-anchor="middle">Brain</text>
<path d="M224.0,1757.8H447.1M436.9,1757.8V1725.9H447.1M224.4,1757.8V1767.3M266.9,1757.8V1767.3M309.4,1757.8V1767.3M351.9,1757.8V1767.3M394.4,1757.8V1767.3M436.9,1757.8V1767.3" stroke="#D6D6D6" stroke-width="1.8" fill="none"/>
<rect x="281.9" y="1727.3" width="13.3" height="29.6" fill="#C00000"/>
<rect x="324.4" y="1751.7" width="13.5" height="5.2" fill="#C00000"/>
<text x="459.4" y="1730.3" font-size="21.5">800</text>
<text x="463.3" y="1765.9" font-size="21.5">0</text>
<text x="212.2" y="1791.3" font-size="21" text-anchor="start">10<tspan font-size="14" dy="-7.0">-7</tspan></text>
<text x="258.0" y="1791.3" font-size="21" text-anchor="start">10<tspan font-size="14" dy="-7.0">-5</tspan></text>
<text x="302.7" y="1791.3" font-size="21" text-anchor="start">10<tspan font-size="14" dy="-7.0">-3</tspan></text>
<text x="348.0" y="1791.3" font-size="21" text-anchor="start">10<tspan font-size="14" dy="-7.0">-1</tspan></text>
<text x="392.8" y="1791.3" font-size="21" text-anchor="start">10<tspan font-size="14" dy="-7.0">1</tspan></text>
<text x="430.8" y="1791.3" font-size="21" text-anchor="start">10<tspan font-size="14" dy="-7.0">3</tspan></text>
<text x="330.6" y="1821.4" font-size="30" text-anchor="middle">Liver</text>
<text x="786.5" y="1468.0" font-size="37" text-anchor="middle">Liver vs. Heart</text>
<path d="M707.3,1512.7V1696.4M667.4,1549.4H867.1M747.3,1512.7V1696.4M667.4,1586.2H867.1M787.2,1512.7V1696.4M667.4,1622.9H867.1M827.2,1512.7V1696.4M667.4,1659.7H867.1" stroke="#D6D6D6" stroke-width="1.8" fill="none"/>
<path d="M667.4,1696.4H867.1V1512.7H667.4Z" stroke="#D6D6D6" stroke-width="2" fill="none"/>
<path d="M667.4,1512.7V1696.4H867.1" stroke="#C4C4C4" stroke-width="2.2" fill="none"/>
<path d="M667.4,1696.4L867.1,1512.7" stroke="#000" stroke-width="4.4" stroke-dasharray="14,8" fill="none"/>
<path d="M694.6,1663.6 L694.9,1666.0 L697.9,1668.0 L707.8,1669.3 L722.3,1667.8 L733.8,1666.4 L738.6,1664.8 L741.0,1650.3 L741.1,1649.7 L741.3,1649.0 L741.6,1648.4 L742.0,1647.9 L742.4,1647.3 L742.8,1646.8 L752.0,1637.7 L752.5,1637.2 L753.0,1636.8 L753.6,1636.4 L754.3,1636.2 L764.9,1632.2 L772.6,1623.2 L781.5,1608.4 L781.9,1607.9 L791.0,1595.7 L791.6,1595.0 L800.1,1586.5 L806.1,1575.6 L805.3,1571.2 L803.3,1567.3 L802.9,1567.3 L798.2,1573.1 L797.8,1573.6 L785.6,1585.9 L785.1,1586.2 L784.7,1586.6 L784.2,1586.9 L783.6,1587.2 L783.1,1587.4 L782.5,1587.6 L772.4,1590.1 L766.3,1597.4 L758.8,1607.9 L758.3,1608.5 L757.8,1609.0 L757.2,1609.5 L742.1,1620.1 L730.8,1628.5 L725.4,1636.7 L724.9,1637.3 L724.4,1637.8 L723.9,1638.3 L711.7,1647.4 L697.5,1658.8 L694.6,1663.6Z" fill="#24557F"/>
<g fill="none" stroke="#24557F" stroke-width="2.4"><circle cx="800.2" cy="1582.9" r="4.6"/><circle cx="789.5" cy="1586.5" r="4.6"/><circle cx="741.8" cy="1624.4" r="4.6"/><circle cx="695.5" cy="1667.7" r="4.6"/><circle cx="699.3" cy="1670.0" r="4.6"/><circle cx="779.4" cy="1607.3" r="4.6"/><circle cx="762.6" cy="1633.9" r="4.6"/><circle cx="757.2" cy="1634.5" r="4.6"/><circle cx="771.4" cy="1593.2" r="4.6"/><circle cx="694.2" cy="1661.3" r="4.6"/><circle cx="750.7" cy="1641.6" r="4.6"/><circle cx="706.8" cy="1649.5" r="4.6"/><circle cx="737.1" cy="1626.9" r="4.6"/><circle cx="802.6" cy="1576.8" r="4.6"/><circle cx="704.0" cy="1665.3" r="4.6"/><circle cx="731.8" cy="1662.9" r="4.6"/><circle cx="760.6" cy="1608.1" r="4.6"/><circle cx="745.2" cy="1620.7" r="4.6"/><circle cx="773.9" cy="1620.5" r="4.6"/><circle cx="778.2" cy="1612.9" r="4.6"/><circle cx="806.9" cy="1573.2" r="4.6"/><circle cx="800.7" cy="1571.5" r="4.6"/><circle cx="701.6" cy="1656.3" r="4.6"/><circle cx="739.2" cy="1653.7" r="4.6"/><circle cx="727.1" cy="1632.9" r="4.6"/><circle cx="715.2" cy="1644.3" r="4.6"/><circle cx="796.0" cy="1591.1" r="4.6"/><circle cx="717.6" cy="1667.5" r="4.6"/><circle cx="743.1" cy="1642.3" r="4.6"/><circle cx="774.0" cy="1588.3" r="4.6"/><circle cx="778.3" cy="1593.0" r="4.6"/><circle cx="754.0" cy="1612.0" r="4.6"/><circle cx="756.3" cy="1615.2" r="4.6"/><circle cx="749.1" cy="1616.4" r="4.6"/><circle cx="771.0" cy="1623.9" r="4.6"/><circle cx="724.3" cy="1643.1" r="4.6"/><circle cx="751.6" cy="1632.7" r="4.6"/><circle cx="741.2" cy="1660.3" r="4.6"/><circle cx="742.2" cy="1617.1" r="4.6"/><circle cx="790.0" cy="1597.0" r="4.6"/><circle cx="766.0" cy="1626.6" r="4.6"/><circle cx="709.5" cy="1646.3" r="4.6"/><circle cx="778.6" cy="1586.9" r="4.6"/><circle cx="713.8" cy="1666.7" r="4.6"/><circle cx="765.3" cy="1630.7" r="4.6"/><circle cx="794.7" cy="1575.8" r="4.6"/><circle cx="710.3" cy="1669.8" r="4.6"/><circle cx="719.6" cy="1645.3" r="4.6"/><circle cx="769.9" cy="1619.4" r="4.6"/><circle cx="736.8" cy="1665.0" r="4.6"/><circle cx="741.9" cy="1649.3" r="4.6"/><circle cx="804.7" cy="1582.2" r="4.6"/><circle cx="790.3" cy="1590.8" r="4.6"/><circle cx="768.8" cy="1599.1" r="4.6"/><circle cx="804.6" cy="1568.5" r="4.6"/><circle cx="727.8" cy="1666.9" r="4.6"/><circle cx="731.0" cy="1634.6" r="4.6"/><circle cx="793.1" cy="1582.5" r="4.6"/><circle cx="714.8" cy="1649.3" r="4.6"/><circle cx="700.0" cy="1662.0" r="4.6"/><circle cx="763.9" cy="1599.5" r="4.6"/><circle cx="721.6" cy="1666.8" r="4.6"/><circle cx="732.8" cy="1627.7" r="4.6"/><circle cx="763.7" cy="1604.5" r="4.6"/><circle cx="721.4" cy="1640.5" r="4.6"/><circle cx="769.4" cy="1630.1" r="4.6"/><circle cx="733.7" cy="1668.2" r="4.6"/><circle cx="752.3" cy="1637.0" r="4.6"/><circle cx="788.1" cy="1579.9" r="4.6"/><circle cx="733.3" cy="1623.7" r="4.6"/><circle cx="784.1" cy="1602.7" r="4.6"/><circle cx="782.1" cy="1611.7" r="4.6"/><circle cx="711.0" cy="1651.0" r="4.6"/><circle cx="747.4" cy="1637.4" r="4.6"/><circle cx="707.9" cy="1654.7" r="4.6"/><circle cx="760.7" cy="1629.1" r="4.6"/><circle cx="765.6" cy="1594.9" r="4.6"/><circle cx="796.4" cy="1586.3" r="4.6"/><circle cx="745.2" cy="1646.9" r="4.6"/><circle cx="740.7" cy="1664.4" r="4.6"/><circle cx="773.4" cy="1613.6" r="4.6"/><circle cx="699.9" cy="1666.0" r="4.6"/><circle cx="739.6" cy="1644.2" r="4.6"/><circle cx="783.8" cy="1588.5" r="4.6"/><circle cx="727.2" cy="1639.9" r="4.6"/><circle cx="709.7" cy="1664.6" r="4.6"/><circle cx="798.0" cy="1579.2" r="4.6"/><circle cx="696.4" cy="1656.7" r="4.6"/><circle cx="789.0" cy="1601.4" r="4.6"/><circle cx="784.3" cy="1598.7" r="4.6"/><circle cx="737.4" cy="1648.5" r="4.6"/><circle cx="738.8" cy="1620.6" r="4.6"/><circle cx="756.0" cy="1607.6" r="4.6"/><circle cx="760.4" cy="1612.2" r="4.6"/><circle cx="724.1" cy="1636.5" r="4.6"/><circle cx="704.1" cy="1669.6" r="4.6"/><circle cx="735.5" cy="1658.0" r="4.6"/><circle cx="717.1" cy="1640.8" r="4.6"/><circle cx="803.0" cy="1586.1" r="4.6"/><circle cx="726.3" cy="1662.9" r="4.6"/><circle cx="802.2" cy="1565.1" r="4.6"/><circle cx="724.4" cy="1669.8" r="4.6"/><circle cx="728.3" cy="1628.0" r="4.6"/><circle cx="759.4" cy="1604.2" r="4.6"/><circle cx="783.4" cy="1606.9" r="4.6"/><circle cx="792.8" cy="1594.1" r="4.6"/><circle cx="703.3" cy="1651.7" r="4.6"/><circle cx="776.8" cy="1616.8" r="4.6"/><circle cx="756.4" cy="1630.7" r="4.6"/><circle cx="786.7" cy="1594.1" r="4.6"/><circle cx="806.5" cy="1577.3" r="4.6"/><circle cx="750.1" cy="1611.8" r="4.6"/><circle cx="800.0" cy="1588.7" r="4.6"/><circle cx="785.5" cy="1584.0" r="4.6"/><circle cx="772.3" cy="1597.0" r="4.6"/><circle cx="796.5" cy="1571.7" r="4.6"/><circle cx="734.6" cy="1631.2" r="4.6"/><circle cx="735.2" cy="1579.7" r="4.6"/><circle cx="733.7" cy="1588.1" r="4.6"/><circle cx="745.9" cy="1595.0" r="4.6"/><circle cx="755.8" cy="1578.2" r="4.6"/><circle cx="762.7" cy="1580.5" r="4.6"/><circle cx="771.8" cy="1560.7" r="4.6"/><circle cx="775.6" cy="1563.0" r="4.6"/><circle cx="784.0" cy="1570.6" r="4.6"/><circle cx="788.6" cy="1575.9" r="4.6"/><circle cx="804.6" cy="1546.2" r="4.6"/><circle cx="817.6" cy="1539.3" r="4.6"/><circle cx="836.6" cy="1533.2" r="4.6"/><circle cx="834.3" cy="1541.6" r="4.6"/><circle cx="851.1" cy="1527.1" r="4.6"/><circle cx="822.1" cy="1553.8" r="4.6"/><circle cx="823.7" cy="1559.9" r="4.6"/><circle cx="825.9" cy="1560.7" r="4.6"/><circle cx="822.1" cy="1566.0" r="4.6"/><circle cx="814.5" cy="1588.1" r="4.6"/><circle cx="808.4" cy="1589.6" r="4.6"/><circle cx="790.1" cy="1614.8" r="4.6"/><circle cx="788.6" cy="1640.7" r="4.6"/><circle cx="773.3" cy="1646.8" r="4.6"/><circle cx="774.9" cy="1649.9" r="4.6"/><circle cx="759.6" cy="1659.0" r="4.6"/><circle cx="756.6" cy="1659.0" r="4.6"/><circle cx="741.3" cy="1672.8" r="4.6"/><circle cx="726.1" cy="1622.4" r="4.6"/><circle cx="724.5" cy="1628.5" r="4.6"/><circle cx="709.3" cy="1647.6" r="4.6"/></g>
<path d="M582.8,1496.8V1703.0M573.0,1505.5H628.9V1496.8M573.0,1505.5H582.8M573.0,1545.0H582.8M573.0,1584.5H582.8M573.0,1624.0H582.8M573.0,1663.5H582.8M573.0,1703.0H582.8" stroke="#D6D6D6" stroke-width="1.8" fill="none"/>
<rect x="583.7" y="1557.8" width="0.8" height="13.8" fill="#C00000"/>
<rect x="583.7" y="1598.2" width="7.4" height="13.1" fill="#C00000"/>
<rect x="583.7" y="1637.7" width="43.3" height="13.3" fill="#C00000"/>
<rect x="583.7" y="1676.5" width="11.0" height="13.8" fill="#C00000"/>
<text x="579.9" y="1484.0" font-size="21.5" text-anchor="middle">0</text>
<text x="623.5" y="1484.0" font-size="21.5" text-anchor="middle">800</text>
<text x="533.5" y="1505.5" font-size="21" text-anchor="start">10<tspan font-size="14" dy="-7.0">3</tspan></text>
<text x="533.5" y="1546.8" font-size="21" text-anchor="start">10<tspan font-size="14" dy="-7.0">1</tspan></text>
<text x="533.5" y="1588.0" font-size="21" text-anchor="start">10<tspan font-size="14" dy="-7.0">-1</tspan></text>
<text x="533.5" y="1629.3" font-size="21" text-anchor="start">10<tspan font-size="14" dy="-7.0">-3</tspan></text>
<text x="533.5" y="1670.5" font-size="21" text-anchor="start">10<tspan font-size="14" dy="-7.0">-5</tspan></text>
<text x="533.5" y="1711.8" font-size="21" text-anchor="start">10<tspan font-size="14" dy="-7.0">-7</tspan></text>
<text transform="translate(514.9,1591.9) rotate(-90)" font-size="31" text-anchor="middle">Heart</text>
<path d="M666.0,1761.4H889.1M878.9,1761.4V1728.8H889.1M666.0,1761.4V1770.3M708.6,1761.4V1770.3M751.2,1761.4V1770.3M793.7,1761.4V1770.3M836.3,1761.4V1770.3M878.9,1761.4V1770.3" stroke="#D6D6D6" stroke-width="1.8" fill="none"/>
<rect x="681.3" y="1735.7" width="13.2" height="24.8" fill="#C00000"/>
<rect x="723.8" y="1739.8" width="13.0" height="20.7" fill="#C00000"/>
<rect x="766.1" y="1756.1" width="13.4" height="4.4" fill="#C00000"/>
<text x="898.6" y="1736.4" font-size="21.5">800</text>
<text x="900.3" y="1769.5" font-size="21.5">0</text>
<text x="653.8" y="1797.4" font-size="21" text-anchor="start">10<tspan font-size="14" dy="-7.0">-7</tspan></text>
<text x="700.0" y="1797.4" font-size="21" text-anchor="start">10<tspan font-size="14" dy="-7.0">-5</tspan></text>
<text x="744.7" y="1797.4" font-size="21" text-anchor="start">10<tspan font-size="14" dy="-7.0">-3</tspan></text>
<text x="790.0" y="1797.4" font-size="21" text-anchor="start">10<tspan font-size="14" dy="-7.0">-1</tspan></text>
<text x="835.2" y="1797.4" font-size="21" text-anchor="start">10<tspan font-size="14" dy="-7.0">1</tspan></text>
<text x="873.4" y="1797.4" font-size="21" text-anchor="start">10<tspan font-size="14" dy="-7.0">3</tspan></text>
<text x="774.2" y="1827.9" font-size="30" text-anchor="middle">Liver</text>
<text x="1236.0" y="1466.5" font-size="37" text-anchor="middle">Liver vs. Kidney</text>
<path d="M1150.1,1517.8V1701.4M1110.3,1554.5H1309.4M1189.9,1517.8V1701.4M1110.3,1591.2H1309.4M1229.8,1517.8V1701.4M1110.3,1628.0H1309.4M1269.6,1517.8V1701.4M1110.3,1664.7H1309.4" stroke="#D6D6D6" stroke-width="1.8" fill="none"/>
<path d="M1110.3,1701.4H1309.4V1517.8H1110.3Z" stroke="#D6D6D6" stroke-width="2" fill="none"/>
<path d="M1110.3,1517.8V1701.4H1309.4" stroke="#C4C4C4" stroke-width="2.2" fill="none"/>
<path d="M1110.3,1701.4L1309.4,1517.8" stroke="#000" stroke-width="4.4" stroke-dasharray="14,8" fill="none"/>
<path d="M1136.8,1661.8 L1137.0,1663.1 L1140.7,1665.4 L1151.5,1666.7 L1165.1,1668.1 L1174.4,1664.6 L1182.4,1655.2 L1182.8,1654.9 L1195.0,1642.7 L1206.9,1630.7 L1218.9,1615.7 L1219.0,1615.6 L1228.2,1604.9 L1237.3,1594.2 L1237.4,1594.2 L1247.1,1583.1 L1249.0,1576.5 L1247.7,1574.5 L1243.8,1574.5 L1229.9,1581.4 L1229.4,1581.6 L1228.8,1581.8 L1228.3,1582.0 L1213.0,1585.0 L1212.4,1585.1 L1211.8,1585.1 L1211.1,1585.1 L1210.5,1585.0 L1209.9,1584.9 L1195.6,1580.6 L1185.4,1580.6 L1175.4,1583.9 L1172.0,1591.9 L1171.8,1592.2 L1166.0,1603.9 L1161.6,1618.6 L1161.4,1619.2 L1161.1,1619.7 L1153.5,1634.9 L1153.2,1635.5 L1152.8,1636.1 L1141.2,1650.5 L1136.8,1661.8Z" fill="#24557F"/>
<g fill="none" stroke="#24557F" stroke-width="2.4"><circle cx="1216.6" cy="1585.0" r="4.6"/><circle cx="1218.0" cy="1609.9" r="4.6"/><circle cx="1155.7" cy="1664.5" r="4.6"/><circle cx="1241.0" cy="1585.2" r="4.6"/><circle cx="1235.6" cy="1599.3" r="4.6"/><circle cx="1141.8" cy="1651.9" r="4.6"/><circle cx="1170.7" cy="1602.9" r="4.6"/><circle cx="1198.3" cy="1634.2" r="4.6"/><circle cx="1179.6" cy="1654.2" r="4.6"/><circle cx="1194.3" cy="1637.4" r="4.6"/><circle cx="1147.5" cy="1648.6" r="4.6"/><circle cx="1190.0" cy="1580.5" r="4.6"/><circle cx="1163.7" cy="1606.8" r="4.6"/><circle cx="1250.3" cy="1574.9" r="4.6"/><circle cx="1153.2" cy="1632.4" r="4.6"/><circle cx="1218.0" cy="1620.0" r="4.6"/><circle cx="1143.9" cy="1644.6" r="4.6"/><circle cx="1191.2" cy="1640.3" r="4.6"/><circle cx="1201.6" cy="1638.9" r="4.6"/><circle cx="1232.7" cy="1580.4" r="4.6"/><circle cx="1178.4" cy="1583.6" r="4.6"/><circle cx="1183.7" cy="1584.3" r="4.6"/><circle cx="1208.7" cy="1582.2" r="4.6"/><circle cx="1229.2" cy="1603.0" r="4.6"/><circle cx="1158.7" cy="1619.1" r="4.6"/><circle cx="1225.3" cy="1585.5" r="4.6"/><circle cx="1139.4" cy="1666.7" r="4.6"/><circle cx="1192.2" cy="1645.0" r="4.6"/><circle cx="1143.8" cy="1665.3" r="4.6"/><circle cx="1164.6" cy="1667.5" r="4.6"/><circle cx="1179.3" cy="1658.4" r="4.6"/><circle cx="1238.8" cy="1578.2" r="4.6"/><circle cx="1213.8" cy="1625.4" r="4.6"/><circle cx="1162.0" cy="1627.6" r="4.6"/><circle cx="1221.4" cy="1581.8" r="4.6"/><circle cx="1202.0" cy="1631.1" r="4.6"/><circle cx="1227.5" cy="1598.9" r="4.6"/><circle cx="1221.9" cy="1615.3" r="4.6"/><circle cx="1210.4" cy="1586.9" r="4.6"/><circle cx="1175.4" cy="1590.8" r="4.6"/><circle cx="1186.9" cy="1645.5" r="4.6"/><circle cx="1140.0" cy="1662.1" r="4.6"/><circle cx="1182.5" cy="1649.8" r="4.6"/><circle cx="1173.1" cy="1598.3" r="4.6"/><circle cx="1194.7" cy="1579.8" r="4.6"/><circle cx="1170.4" cy="1590.3" r="4.6"/><circle cx="1197.7" cy="1584.4" r="4.6"/><circle cx="1135.7" cy="1662.8" r="4.6"/><circle cx="1229.6" cy="1585.2" r="4.6"/><circle cx="1156.9" cy="1625.6" r="4.6"/><circle cx="1248.2" cy="1581.2" r="4.6"/><circle cx="1163.2" cy="1620.2" r="4.6"/><circle cx="1232.2" cy="1596.6" r="4.6"/><circle cx="1174.2" cy="1661.4" r="4.6"/><circle cx="1184.0" cy="1655.3" r="4.6"/><circle cx="1147.6" cy="1641.8" r="4.6"/><circle cx="1202.4" cy="1586.9" r="4.6"/><circle cx="1165.5" cy="1599.7" r="4.6"/><circle cx="1178.4" cy="1587.8" r="4.6"/><circle cx="1161.2" cy="1612.2" r="4.6"/><circle cx="1173.6" cy="1584.2" r="4.6"/><circle cx="1147.9" cy="1666.0" r="4.6"/><circle cx="1244.4" cy="1572.9" r="4.6"/><circle cx="1168.9" cy="1607.5" r="4.6"/><circle cx="1233.7" cy="1591.9" r="4.6"/><circle cx="1150.8" cy="1636.3" r="4.6"/><circle cx="1189.0" cy="1649.1" r="4.6"/><circle cx="1139.3" cy="1656.9" r="4.6"/><circle cx="1164.6" cy="1616.3" r="4.6"/><circle cx="1244.0" cy="1577.1" r="4.6"/><circle cx="1161.1" cy="1669.5" r="4.6"/><circle cx="1172.1" cy="1666.4" r="4.6"/><circle cx="1185.8" cy="1580.2" r="4.6"/><circle cx="1222.5" cy="1610.1" r="4.6"/><circle cx="1246.5" cy="1586.9" r="4.6"/><circle cx="1205.2" cy="1627.3" r="4.6"/><circle cx="1207.7" cy="1631.2" r="4.6"/><circle cx="1239.0" cy="1590.2" r="4.6"/><circle cx="1203.3" cy="1580.5" r="4.6"/><circle cx="1212.9" cy="1582.8" r="4.6"/><circle cx="1216.8" cy="1613.8" r="4.6"/><circle cx="1213.9" cy="1621.1" r="4.6"/><circle cx="1169.2" cy="1597.3" r="4.6"/><circle cx="1227.0" cy="1581.5" r="4.6"/><circle cx="1226.5" cy="1610.0" r="4.6"/><circle cx="1168.8" cy="1668.7" r="4.6"/><circle cx="1165.4" cy="1663.5" r="4.6"/><circle cx="1239.1" cy="1594.4" r="4.6"/><circle cx="1180.9" cy="1580.0" r="4.6"/><circle cx="1213.6" cy="1616.8" r="4.6"/><circle cx="1206.3" cy="1585.5" r="4.6"/><circle cx="1244.0" cy="1590.3" r="4.6"/><circle cx="1156.2" cy="1635.5" r="4.6"/><circle cx="1198.0" cy="1642.1" r="4.6"/><circle cx="1157.5" cy="1631.0" r="4.6"/><circle cx="1236.9" cy="1582.9" r="4.6"/><circle cx="1161.4" cy="1665.1" r="4.6"/><circle cx="1154.5" cy="1668.3" r="4.6"/><circle cx="1207.1" cy="1623.8" r="4.6"/><circle cx="1215.4" cy="1589.1" r="4.6"/><circle cx="1140.9" cy="1648.0" r="4.6"/><circle cx="1193.2" cy="1584.1" r="4.6"/><circle cx="1203.1" cy="1634.9" r="4.6"/><circle cx="1199.2" cy="1580.7" r="4.6"/><circle cx="1225.8" cy="1605.7" r="4.6"/><circle cx="1148.7" cy="1662.2" r="4.6"/><circle cx="1151.8" cy="1642.0" r="4.6"/><circle cx="1166.3" cy="1611.3" r="4.6"/><circle cx="1143.6" cy="1656.7" r="4.6"/><circle cx="1210.2" cy="1619.5" r="4.6"/><circle cx="1210.8" cy="1628.7" r="4.6"/><circle cx="1178.9" cy="1662.5" r="4.6"/><circle cx="1135.7" cy="1658.9" r="4.6"/><circle cx="1221.3" cy="1587.0" r="4.6"/><circle cx="1172.2" cy="1594.0" r="4.6"/><circle cx="1188.8" cy="1584.6" r="4.6"/><circle cx="1239.5" cy="1574.4" r="4.6"/><circle cx="1221.7" cy="1605.6" r="4.6"/><circle cx="1234.1" cy="1576.7" r="4.6"/><circle cx="1169.9" cy="1662.7" r="4.6"/><circle cx="1186.3" cy="1652.0" r="4.6"/><circle cx="1137.9" cy="1653.0" r="4.6"/><circle cx="1244.6" cy="1582.8" r="4.6"/><circle cx="1175.4" cy="1656.7" r="4.6"/><circle cx="1160.5" cy="1623.8" r="4.6"/><circle cx="1150.5" cy="1645.7" r="4.6"/><circle cx="1169.8" cy="1555.0" r="4.6"/><circle cx="1192.7" cy="1562.6" r="4.6"/><circle cx="1192.7" cy="1566.4" r="4.6"/><circle cx="1220.9" cy="1561.1" r="4.6"/><circle cx="1211.8" cy="1569.5" r="4.6"/><circle cx="1202.6" cy="1574.1" r="4.6"/><circle cx="1201.1" cy="1570.2" r="4.6"/><circle cx="1179.7" cy="1570.2" r="4.6"/><circle cx="1163.0" cy="1574.1" r="4.6"/><circle cx="1161.4" cy="1584.0" r="4.6"/><circle cx="1163.0" cy="1593.9" r="4.6"/><circle cx="1156.9" cy="1609.1" r="4.6"/><circle cx="1149.2" cy="1619.0" r="4.6"/><circle cx="1134.0" cy="1645.0" r="4.6"/><circle cx="1141.6" cy="1635.1" r="4.6"/><circle cx="1265.1" cy="1570.2" r="4.6"/><circle cx="1256.0" cy="1588.5" r="4.6"/><circle cx="1248.4" cy="1593.9" r="4.6"/><circle cx="1237.7" cy="1607.6" r="4.6"/><circle cx="1234.6" cy="1613.7" r="4.6"/><circle cx="1219.4" cy="1630.5" r="4.6"/><circle cx="1211.8" cy="1642.7" r="4.6"/><circle cx="1199.6" cy="1651.8" r="4.6"/><circle cx="1210.2" cy="1651.8" r="4.6"/><circle cx="1294.1" cy="1530.6" r="4.6"/><circle cx="1278.9" cy="1541.3" r="4.6"/><circle cx="1274.3" cy="1545.8" r="4.6"/><circle cx="1271.2" cy="1550.4" r="4.6"/><circle cx="1266.7" cy="1554.2" r="4.6"/><circle cx="1262.1" cy="1558.8" r="4.6"/><circle cx="1249.9" cy="1564.1" r="4.6"/><circle cx="1227.0" cy="1574.8" r="4.6"/></g>
<path d="M1023.8,1499.7V1705.2M1014.7,1508.4H1070.3V1499.7M1014.7,1508.4H1023.8M1014.7,1547.8H1023.8M1014.7,1587.1H1023.8M1014.7,1626.5H1023.8M1014.7,1665.8H1023.8M1014.7,1705.2H1023.8" stroke="#D6D6D6" stroke-width="1.8" fill="none"/>
<rect x="1024.7" y="1600.2" width="5.0" height="14.0" fill="#C00000"/>
<rect x="1024.7" y="1639.9" width="38.8" height="13.5" fill="#C00000"/>
<rect x="1024.7" y="1679.5" width="10.8" height="13.1" fill="#C00000"/>
<text x="1024.1" y="1480.8" font-size="21.5" text-anchor="middle">0</text>
<text x="1069.8" y="1480.8" font-size="21.5" text-anchor="middle">800</text>
<text x="974.0" y="1508.4" font-size="21" text-anchor="start">10<tspan font-size="14" dy="-7.0">3</tspan></text>
<text x="974.0" y="1549.7" font-size="21" text-anchor="start">10<tspan font-size="14" dy="-7.0">1</tspan></text>
<text x="974.0" y="1590.9" font-size="21" text-anchor="start">10<tspan font-size="14" dy="-7.0">-1</tspan></text>
<text x="974.0" y="1632.2" font-size="21" text-anchor="start">10<tspan font-size="14" dy="-7.0">-3</tspan></text>
<text x="974.0" y="1673.4" font-size="21" text-anchor="start">10<tspan font-size="14" dy="-7.0">-5</tspan></text>
<text x="974.0" y="1714.7" font-size="21" text-anchor="start">10<tspan font-size="14" dy="-7.0">-7</tspan></text>
<text transform="translate(958.5,1593.8) rotate(-90)" font-size="31" text-anchor="middle">Kidney</text>
<path d="M1105.1,1761.2H1327.8M1318.7,1761.2V1728.8H1327.8M1105.8,1761.2V1771.2M1148.4,1761.2V1771.2M1191.0,1761.2V1771.2M1233.5,1761.2V1771.2M1276.1,1761.2V1771.2M1318.7,1761.2V1771.2" stroke="#D6D6D6" stroke-width="1.8" fill="none"/>
<rect x="1120.4" y="1756.3" width="13.8" height="4.0" fill="#C00000"/>
<rect x="1163.0" y="1728.8" width="13.6" height="31.5" fill="#C00000"/>
<rect x="1205.9" y="1757.0" width="13.1" height="3.3" fill="#C00000"/>
<text x="1339.5" y="1737.3" font-size="21.5">800</text>
<text x="1342.6" y="1770.6" font-size="21.5">0</text>
<text x="1092.4" y="1796.2" font-size="21" text-anchor="start">10<tspan font-size="14" dy="-7.0">-7</tspan></text>
<text x="1138.0" y="1796.2" font-size="21" text-anchor="start">10<tspan font-size="14" dy="-7.0">-5</tspan></text>
<text x="1183.6" y="1796.2" font-size="21" text-anchor="start">10<tspan font-size="14" dy="-7.0">-3</tspan></text>
<text x="1229.2" y="1796.2" font-size="21" text-anchor="start">10<tspan font-size="14" dy="-7.0">-1</tspan></text>
<text x="1270.5" y="1796.2" font-size="21" text-anchor="start">10<tspan font-size="14" dy="-7.0">1</tspan></text>
<text x="1308.7" y="1796.2" font-size="21" text-anchor="start">10<tspan font-size="14" dy="-7.0">3</tspan></text>
<text x="1218.6" y="1826.3" font-size="30" text-anchor="middle">Liver</text>
<text x="334.6" y="1871.1" font-size="37" text-anchor="middle">Brain vs. Heart</text>
<path d="M263.0,1916.3V2099.9M223.2,1953.0H422.1M302.8,1916.3V2099.9M223.2,1989.7H422.1M342.5,1916.3V2099.9M223.2,2026.5H422.1M382.3,1916.3V2099.9M223.2,2063.2H422.1" stroke="#D6D6D6" stroke-width="1.8" fill="none"/>
<path d="M223.2,2099.9H422.1V1916.3H223.2Z" stroke="#D6D6D6" stroke-width="2" fill="none"/>
<path d="M223.2,1916.3V2099.9H422.1" stroke="#C4C4C4" stroke-width="2.2" fill="none"/>
<path d="M223.2,2099.9L422.1,1916.3" stroke="#000" stroke-width="4.4" stroke-dasharray="14,8" fill="none"/>
<path d="M261.1,2070.4 L267.5,2071.2 L285.1,2069.8 L300.6,2068.3 L309.0,2064.1 L311.3,2054.8 L311.6,2054.2 L311.8,2053.5 L317.9,2041.3 L324.0,2029.1 L330.1,2016.9 L336.0,2005.1 L338.5,1997.8 L337.3,1988.4 L335.7,1985.8 L332.3,1986.3 L325.1,1991.2 L316.5,2001.2 L316.0,2001.6 L315.5,2002.1 L315.0,2002.4 L302.9,2010.0 L290.4,2018.3 L283.5,2029.4 L283.1,2030.0 L271.3,2044.7 L264.3,2058.7 L261.1,2070.4Z" fill="#24557F"/>
<g fill="none" stroke="#24557F" stroke-width="2.4"><circle cx="320.2" cy="1993.1" r="4.6"/><circle cx="301.8" cy="2012.3" r="4.6"/><circle cx="329.3" cy="2020.5" r="4.6"/><circle cx="332.4" cy="2008.3" r="4.6"/><circle cx="268.2" cy="2068.9" r="4.6"/><circle cx="287.4" cy="2025.1" r="4.6"/><circle cx="292.5" cy="2065.4" r="4.6"/><circle cx="290.1" cy="2017.6" r="4.6"/><circle cx="306.5" cy="2062.9" r="4.6"/><circle cx="322.2" cy="1999.2" r="4.6"/><circle cx="322.4" cy="2031.2" r="4.6"/><circle cx="274.4" cy="2038.6" r="4.6"/><circle cx="324.5" cy="2022.6" r="4.6"/><circle cx="268.2" cy="2051.9" r="4.6"/><circle cx="306.0" cy="2012.1" r="4.6"/><circle cx="286.1" cy="2020.7" r="4.6"/><circle cx="289.0" cy="2071.9" r="4.6"/><circle cx="335.0" cy="2002.7" r="4.6"/><circle cx="307.2" cy="2056.4" r="4.6"/><circle cx="315.6" cy="2046.0" r="4.6"/><circle cx="271.9" cy="2073.3" r="4.6"/><circle cx="300.8" cy="2065.5" r="4.6"/><circle cx="294.1" cy="2014.7" r="4.6"/><circle cx="268.9" cy="2044.6" r="4.6"/><circle cx="332.6" cy="2014.0" r="4.6"/><circle cx="334.8" cy="1984.7" r="4.6"/><circle cx="339.0" cy="2000.5" r="4.6"/><circle cx="275.2" cy="2046.7" r="4.6"/><circle cx="327.4" cy="1988.0" r="4.6"/><circle cx="287.0" cy="2065.7" r="4.6"/><circle cx="298.5" cy="2014.4" r="4.6"/><circle cx="335.6" cy="1991.1" r="4.6"/><circle cx="312.7" cy="2041.7" r="4.6"/><circle cx="284.6" cy="2034.4" r="4.6"/><circle cx="268.6" cy="2059.4" r="4.6"/><circle cx="315.1" cy="1999.9" r="4.6"/><circle cx="260.9" cy="2064.5" r="4.6"/><circle cx="307.7" cy="2008.0" r="4.6"/><circle cx="261.9" cy="2058.5" r="4.6"/><circle cx="312.3" cy="2048.8" r="4.6"/><circle cx="294.3" cy="2020.6" r="4.6"/><circle cx="277.0" cy="2072.7" r="4.6"/><circle cx="330.9" cy="1992.3" r="4.6"/><circle cx="310.5" cy="2064.0" r="4.6"/><circle cx="310.7" cy="2002.3" r="4.6"/><circle cx="283.5" cy="2027.0" r="4.6"/><circle cx="279.0" cy="2035.3" r="4.6"/><circle cx="265.7" cy="2065.8" r="4.6"/><circle cx="325.1" cy="1995.3" r="4.6"/><circle cx="322.7" cy="2036.2" r="4.6"/><circle cx="325.3" cy="2027.8" r="4.6"/><circle cx="318.8" cy="2039.1" r="4.6"/><circle cx="274.7" cy="2069.2" r="4.6"/><circle cx="282.0" cy="2068.3" r="4.6"/><circle cx="293.0" cy="2069.5" r="4.6"/><circle cx="262.5" cy="2071.9" r="4.6"/><circle cx="312.6" cy="2057.8" r="4.6"/><circle cx="308.3" cy="2052.0" r="4.6"/><circle cx="328.5" cy="2012.1" r="4.6"/><circle cx="330.2" cy="1984.8" r="4.6"/><circle cx="272.0" cy="2050.2" r="4.6"/><circle cx="340.3" cy="1996.4" r="4.6"/><circle cx="327.2" cy="2016.6" r="4.6"/><circle cx="284.3" cy="2072.3" r="4.6"/><circle cx="318.3" cy="2030.9" r="4.6"/><circle cx="320.6" cy="2026.4" r="4.6"/><circle cx="317.1" cy="2034.8" r="4.6"/><circle cx="338.6" cy="1987.5" r="4.6"/><circle cx="280.5" cy="2030.4" r="4.6"/><circle cx="309.5" cy="2060.1" r="4.6"/><circle cx="303.1" cy="2069.8" r="4.6"/><circle cx="312.2" cy="2009.5" r="4.6"/><circle cx="315.9" cy="2005.9" r="4.6"/><circle cx="298.0" cy="2069.2" r="4.6"/><circle cx="288.4" cy="2029.8" r="4.6"/><circle cx="278.3" cy="2066.4" r="4.6"/><circle cx="336.4" cy="1996.1" r="4.6"/><circle cx="336.1" cy="2010.4" r="4.6"/><circle cx="264.4" cy="2054.4" r="4.6"/><circle cx="291.4" cy="2024.0" r="4.6"/><circle cx="319.7" cy="2002.5" r="4.6"/><circle cx="273.4" cy="2043.1" r="4.6"/><circle cx="340.0" cy="1991.3" r="4.6"/><circle cx="279.3" cy="2041.6" r="4.6"/><circle cx="315.7" cy="2051.2" r="4.6"/><circle cx="324.2" cy="1990.4" r="4.6"/><circle cx="301.2" cy="2008.3" r="4.6"/><circle cx="266.5" cy="2073.0" r="4.6"/><circle cx="297.6" cy="2018.2" r="4.6"/><circle cx="307.0" cy="2066.9" r="4.6"/><circle cx="270.6" cy="2055.0" r="4.6"/><circle cx="264.5" cy="2061.8" r="4.6"/><circle cx="318.8" cy="2043.6" r="4.6"/><circle cx="337.9" cy="2006.7" r="4.6"/><circle cx="258.2" cy="2072.6" r="4.6"/><circle cx="317.4" cy="1996.5" r="4.6"/><circle cx="282.1" cy="2037.9" r="4.6"/><circle cx="332.4" cy="1988.5" r="4.6"/><circle cx="312.3" cy="2053.8" r="4.6"/><circle cx="259.7" cy="2068.9" r="4.6"/><circle cx="328.9" cy="2024.6" r="4.6"/><circle cx="275.7" cy="1991.6" r="4.6"/><circle cx="305.5" cy="1971.0" r="4.6"/><circle cx="330.6" cy="1968.0" r="4.6"/><circle cx="337.5" cy="1972.5" r="4.6"/><circle cx="320.7" cy="1980.2" r="4.6"/><circle cx="312.3" cy="1990.1" r="4.6"/><circle cx="354.3" cy="1964.1" r="4.6"/><circle cx="357.3" cy="1969.5" r="4.6"/><circle cx="351.2" cy="1974.1" r="4.6"/><circle cx="363.4" cy="1981.7" r="4.6"/><circle cx="361.9" cy="1987.0" r="4.6"/><circle cx="349.7" cy="1996.9" r="4.6"/><circle cx="349.7" cy="2015.2" r="4.6"/><circle cx="347.4" cy="2016.8" r="4.6"/><circle cx="371.0" cy="1961.9" r="4.6"/><circle cx="374.1" cy="1968.0" r="4.6"/><circle cx="382.5" cy="1957.3" r="4.6"/><circle cx="387.0" cy="1962.6" r="4.6"/><circle cx="381.7" cy="1944.3" r="4.6"/><circle cx="388.6" cy="1936.7" r="4.6"/><circle cx="403.1" cy="1929.1" r="4.6"/><circle cx="401.5" cy="1930.6" r="4.6"/><circle cx="275.7" cy="2025.1" r="4.6"/><circle cx="267.3" cy="2040.4" r="4.6"/><circle cx="332.9" cy="2032.8" r="4.6"/><circle cx="326.8" cy="2042.7" r="4.6"/><circle cx="337.5" cy="2056.4" r="4.6"/><circle cx="343.6" cy="2065.6" r="4.6"/><circle cx="330.6" cy="2069.4" r="4.6"/><circle cx="316.1" cy="2073.2" r="4.6"/><circle cx="308.5" cy="2073.2" r="4.6"/><circle cx="377.9" cy="2048.0" r="4.6"/><circle cx="368.7" cy="2072.4" r="4.6"/></g>
<path d="M147.9,1898.5V2105.5M138.5,1907.6H194.0V1898.5M138.5,1907.6H147.9M138.5,1947.2H147.9M138.5,1986.8H147.9M138.5,2026.3H147.9M138.5,2065.9H147.9M138.5,2105.5H147.9" stroke="#D6D6D6" stroke-width="1.8" fill="none"/>
<rect x="148.8" y="1960.2" width="2.7" height="13.1" fill="#C00000"/>
<rect x="148.8" y="1999.7" width="12.5" height="13.5" fill="#C00000"/>
<rect x="148.8" y="2039.4" width="47.6" height="13.3" fill="#C00000"/>
<rect x="148.8" y="2078.6" width="1.2" height="13.8" fill="#C00000"/>
<text x="149.5" y="1889.8" font-size="21.5" text-anchor="middle">0</text>
<text x="195.4" y="1889.8" font-size="21.5" text-anchor="middle">800</text>
<text x="100.3" y="1915.9" font-size="21" text-anchor="start">10<tspan font-size="14" dy="-7.0">3</tspan></text>
<text x="100.3" y="1956.1" font-size="21" text-anchor="start">10<tspan font-size="14" dy="-7.0">1</tspan></text>
<text x="100.3" y="1996.4" font-size="21" text-anchor="start">10<tspan font-size="14" dy="-7.0">-1</tspan></text>
<text x="100.3" y="2036.6" font-size="21" text-anchor="start">10<tspan font-size="14" dy="-7.0">-3</tspan></text>
<text x="100.3" y="2076.9" font-size="21" text-anchor="start">10<tspan font-size="14" dy="-7.0">-5</tspan></text>
<text x="100.3" y="2117.1" font-size="21" text-anchor="start">10<tspan font-size="14" dy="-7.0">-7</tspan></text>
<text transform="translate(74.9,1996.9) rotate(-90)" font-size="31" text-anchor="middle">Heart</text>
<path d="M217.9,2155.6H441.0M431.4,2155.6V2123.8H441.0M218.7,2155.6V2165.6M261.2,2155.6V2165.6M303.8,2155.6V2165.6M346.3,2155.6V2165.6M388.9,2155.6V2165.6M431.4,2155.6V2165.6" stroke="#D6D6D6" stroke-width="1.8" fill="none"/>
<rect x="233.2" y="2129.1" width="13.3" height="25.6" fill="#C00000"/>
<rect x="276.0" y="2131.6" width="13.1" height="23.1" fill="#C00000"/>
<rect x="318.6" y="2150.3" width="13.2" height="4.4" fill="#C00000"/>
<text x="454.1" y="2134.4" font-size="21.5">800</text>
<text x="455.8" y="2165.6" font-size="21.5">0</text>
<text x="204.5" y="2190.2" font-size="21" text-anchor="start">10<tspan font-size="14" dy="-7.0">-7</tspan></text>
<text x="250.1" y="2190.2" font-size="21" text-anchor="start">10<tspan font-size="14" dy="-7.0">-5</tspan></text>
<text x="295.7" y="2190.2" font-size="21" text-anchor="start">10<tspan font-size="14" dy="-7.0">-3</tspan></text>
<text x="341.3" y="2190.2" font-size="21" text-anchor="start">10<tspan font-size="14" dy="-7.0">-1</tspan></text>
<text x="385.8" y="2190.2" font-size="21" text-anchor="start">10<tspan font-size="14" dy="-7.0">1</tspan></text>
<text x="425.1" y="2190.2" font-size="21" text-anchor="start">10<tspan font-size="14" dy="-7.0">3</tspan></text>
<text x="337.1" y="2222.4" font-size="30" text-anchor="middle">Brain</text>
<text x="783.3" y="1873.6" font-size="37" text-anchor="middle">Brain vs. Kidney</text>
<path d="M705.9,1916.9V2099.9M667.3,1953.5H860.3M744.5,1916.9V2099.9M667.3,1990.1H860.3M783.1,1916.9V2099.9M667.3,2026.7H860.3M821.7,1916.9V2099.9M667.3,2063.3H860.3" stroke="#D6D6D6" stroke-width="1.8" fill="none"/>
<path d="M667.3,2099.9H860.3V1916.9H667.3Z" stroke="#D6D6D6" stroke-width="2" fill="none"/>
<path d="M667.3,1916.9V2099.9H860.3" stroke="#C4C4C4" stroke-width="2.2" fill="none"/>
<path d="M667.3,2099.9L860.3,1916.9" stroke="#000" stroke-width="4.4" stroke-dasharray="14,8" fill="none"/>
<path d="M701.7,2067.2 L710.4,2068.1 L729.0,2063.8 L745.1,2059.5 L754.0,2055.0 L756.3,2045.7 L756.5,2045.1 L756.8,2044.5 L757.1,2043.9 L757.5,2043.4 L766.5,2031.3 L772.5,2022.3 L772.7,2022.0 L781.9,2009.8 L790.8,1997.9 L796.7,1987.6 L801.3,1979.5 L800.7,1977.5 L796.2,1977.5 L795.4,1977.5 L784.4,1976.1 L775.1,1978.4 L764.2,1989.3 L763.7,1989.8 L763.1,1990.2 L762.5,1990.5 L761.9,1990.8 L750.0,1995.3 L738.6,2001.0 L727.9,2009.0 L720.9,2020.2 L720.8,2020.4 L715.6,2028.2 L714.2,2041.8 L714.1,2042.4 L714.0,2043.0 L713.8,2043.6 L707.7,2058.8 L707.5,2059.3 L707.2,2059.8 L706.9,2060.3 L701.7,2067.2Z" fill="#24557F"/>
<g fill="none" stroke="#24557F" stroke-width="2.4"><circle cx="755.4" cy="1992.2" r="4.6"/><circle cx="779.3" cy="2009.9" r="4.6"/><circle cx="761.3" cy="1992.8" r="4.6"/><circle cx="748.7" cy="2056.3" r="4.6"/><circle cx="769.1" cy="2024.1" r="4.6"/><circle cx="724.2" cy="2016.3" r="4.6"/><circle cx="726.6" cy="2011.5" r="4.6"/><circle cx="752.5" cy="1996.0" r="4.6"/><circle cx="802.2" cy="1976.2" r="4.6"/><circle cx="727.1" cy="2059.8" r="4.6"/><circle cx="798.8" cy="1981.7" r="4.6"/><circle cx="710.8" cy="2052.2" r="4.6"/><circle cx="781.1" cy="1981.4" r="4.6"/><circle cx="710.9" cy="2067.5" r="4.6"/><circle cx="712.7" cy="2063.5" r="4.6"/><circle cx="793.2" cy="1995.6" r="4.6"/><circle cx="775.3" cy="2017.4" r="4.6"/><circle cx="715.7" cy="2028.4" r="4.6"/><circle cx="775.3" cy="1977.4" r="4.6"/><circle cx="756.1" cy="2042.2" r="4.6"/><circle cx="716.4" cy="2065.5" r="4.6"/><circle cx="700.7" cy="2068.0" r="4.6"/><circle cx="729.2" cy="2063.8" r="4.6"/><circle cx="798.9" cy="1986.2" r="4.6"/><circle cx="714.4" cy="2069.5" r="4.6"/><circle cx="706.2" cy="2056.6" r="4.6"/><circle cx="714.3" cy="2043.7" r="4.6"/><circle cx="741.1" cy="2062.4" r="4.6"/><circle cx="782.1" cy="2002.4" r="4.6"/><circle cx="788.5" cy="1993.9" r="4.6"/><circle cx="714.8" cy="2036.0" r="4.6"/><circle cx="718.5" cy="2024.0" r="4.6"/><circle cx="762.6" cy="2039.8" r="4.6"/><circle cx="798.3" cy="1975.6" r="4.6"/><circle cx="764.6" cy="2029.8" r="4.6"/><circle cx="790.2" cy="1979.4" r="4.6"/><circle cx="744.9" cy="2059.7" r="4.6"/><circle cx="764.8" cy="1990.3" r="4.6"/><circle cx="794.4" cy="1977.3" r="4.6"/><circle cx="784.1" cy="1977.1" r="4.6"/><circle cx="770.4" cy="1987.6" r="4.6"/><circle cx="775.8" cy="2013.4" r="4.6"/><circle cx="790.5" cy="1974.3" r="4.6"/><circle cx="704.2" cy="2064.5" r="4.6"/><circle cx="751.9" cy="2052.2" r="4.6"/><circle cx="711.5" cy="2048.1" r="4.6"/><circle cx="794.1" cy="1990.5" r="4.6"/><circle cx="783.2" cy="2008.5" r="4.6"/><circle cx="734.8" cy="2007.3" r="4.6"/><circle cx="748.4" cy="1997.3" r="4.6"/><circle cx="736.7" cy="2058.0" r="4.6"/><circle cx="770.9" cy="1981.5" r="4.6"/><circle cx="788.2" cy="1998.1" r="4.6"/><circle cx="780.0" cy="2014.5" r="4.6"/><circle cx="738.4" cy="2004.9" r="4.6"/><circle cx="743.0" cy="1998.3" r="4.6"/><circle cx="707.6" cy="2070.0" r="4.6"/><circle cx="719.2" cy="2036.7" r="4.6"/><circle cx="717.7" cy="2041.1" r="4.6"/><circle cx="731.9" cy="2060.7" r="4.6"/><circle cx="722.5" cy="2025.5" r="4.6"/><circle cx="724.5" cy="2021.9" r="4.6"/><circle cx="765.5" cy="2035.7" r="4.6"/><circle cx="779.4" cy="1975.5" r="4.6"/><circle cx="785.5" cy="2004.6" r="4.6"/><circle cx="776.6" cy="1981.8" r="4.6"/><circle cx="724.4" cy="2065.0" r="4.6"/><circle cx="711.4" cy="2056.3" r="4.6"/><circle cx="753.1" cy="2045.7" r="4.6"/><circle cx="735.4" cy="2064.3" r="4.6"/><circle cx="765.9" cy="1984.7" r="4.6"/><circle cx="729.9" cy="2014.1" r="4.6"/><circle cx="775.2" cy="2022.0" r="4.6"/><circle cx="756.0" cy="2055.6" r="4.6"/><circle cx="730.5" cy="2007.1" r="4.6"/><circle cx="757.9" cy="2048.9" r="4.6"/><circle cx="760.9" cy="2031.8" r="4.6"/><circle cx="741.9" cy="2002.9" r="4.6"/><circle cx="722.4" cy="2060.8" r="4.6"/><circle cx="732.7" cy="2003.0" r="4.6"/><circle cx="757.2" cy="1997.3" r="4.6"/><circle cx="720.5" cy="2067.2" r="4.6"/><circle cx="709.0" cy="2061.6" r="4.6"/><circle cx="758.0" cy="2035.5" r="4.6"/><circle cx="768.6" cy="2031.6" r="4.6"/><circle cx="790.0" cy="2002.1" r="4.6"/><circle cx="794.4" cy="1984.9" r="4.6"/><circle cx="714.8" cy="2051.8" r="4.6"/><circle cx="803.1" cy="1981.1" r="4.6"/><circle cx="718.7" cy="2032.8" r="4.6"/><circle cx="718.5" cy="2019.7" r="4.6"/><circle cx="772.3" cy="2027.0" r="4.6"/><circle cx="741.4" cy="2057.0" r="4.6"/><circle cx="713.3" cy="2032.3" r="4.6"/><circle cx="736.3" cy="2001.0" r="4.6"/><circle cx="704.9" cy="2060.5" r="4.6"/><circle cx="769.0" cy="2019.8" r="4.6"/><circle cx="752.0" cy="2058.5" r="4.6"/><circle cx="749.4" cy="1992.9" r="4.6"/><circle cx="758.6" cy="1989.5" r="4.6"/><circle cx="779.7" cy="2005.7" r="4.6"/><circle cx="712.9" cy="2039.6" r="4.6"/><circle cx="786.4" cy="1973.9" r="4.6"/><circle cx="745.0" cy="1995.0" r="4.6"/><circle cx="717.1" cy="2047.0" r="4.6"/><circle cx="744.7" cy="2054.8" r="4.6"/><circle cx="718.5" cy="2062.1" r="4.6"/><circle cx="771.5" cy="2016.3" r="4.6"/><circle cx="759.2" cy="2044.9" r="4.6"/><circle cx="746.6" cy="2001.0" r="4.6"/><circle cx="773.4" cy="1984.8" r="4.6"/><circle cx="726.3" cy="2007.3" r="4.6"/><circle cx="719.9" cy="2028.9" r="4.6"/><circle cx="718.4" cy="1964.1" r="4.6"/><circle cx="735.2" cy="1954.2" r="4.6"/><circle cx="761.1" cy="1960.3" r="4.6"/><circle cx="753.5" cy="1964.9" r="4.6"/><circle cx="746.6" cy="1968.7" r="4.6"/><circle cx="742.8" cy="1968.0" r="4.6"/><circle cx="732.9" cy="1974.1" r="4.6"/><circle cx="731.4" cy="1979.4" r="4.6"/><circle cx="724.5" cy="1990.1" r="4.6"/><circle cx="720.0" cy="2006.1" r="4.6"/><circle cx="796.2" cy="1959.6" r="4.6"/><circle cx="808.4" cy="1958.8" r="4.6"/><circle cx="814.5" cy="1952.7" r="4.6"/><circle cx="819.1" cy="1946.6" r="4.6"/><circle cx="825.9" cy="1941.3" r="4.6"/><circle cx="826.7" cy="1949.7" r="4.6"/><circle cx="823.7" cy="1960.3" r="4.6"/><circle cx="819.1" cy="1968.7" r="4.6"/><circle cx="810.7" cy="1980.2" r="4.6"/><circle cx="802.3" cy="1986.3" r="4.6"/><circle cx="842.0" cy="1929.8" r="4.6"/><circle cx="800.8" cy="2021.3" r="4.6"/><circle cx="808.4" cy="2033.5" r="4.6"/><circle cx="799.3" cy="2042.7" r="4.6"/><circle cx="793.2" cy="2053.4" r="4.6"/><circle cx="796.2" cy="2027.4" r="4.6"/><circle cx="788.6" cy="2036.6" r="4.6"/><circle cx="776.4" cy="2041.2" r="4.6"/><circle cx="752.0" cy="2067.1" r="4.6"/><circle cx="739.8" cy="2067.8" r="4.6"/><circle cx="700.1" cy="2050.3" r="4.6"/><circle cx="689.5" cy="2068.6" r="4.6"/></g>
<path d="M579.9,1900.0V2105.5M570.8,1908.2H626.0V1900.0M570.8,1908.2H579.9M570.8,1947.7H579.9M570.8,1987.1H579.9M570.8,2026.6H579.9M570.8,2066.0H579.9M570.8,2105.5H579.9" stroke="#D6D6D6" stroke-width="1.8" fill="none"/>
<rect x="580.8" y="2000.5" width="6.7" height="13.0" fill="#C00000"/>
<rect x="580.8" y="2040.1" width="42.6" height="13.1" fill="#C00000"/>
<text x="580.7" y="1880.3" font-size="21.5" text-anchor="middle">0</text>
<text x="624.8" y="1880.3" font-size="21.5" text-anchor="middle">800</text>
<text x="530.8" y="1907.9" font-size="21" text-anchor="start">10<tspan font-size="14" dy="-7.0">3</tspan></text>
<text x="530.8" y="1949.2" font-size="21" text-anchor="start">10<tspan font-size="14" dy="-7.0">1</tspan></text>
<text x="530.8" y="1990.4" font-size="21" text-anchor="start">10<tspan font-size="14" dy="-7.0">-1</tspan></text>
<text x="530.8" y="2031.7" font-size="21" text-anchor="start">10<tspan font-size="14" dy="-7.0">-3</tspan></text>
<text x="530.8" y="2072.9" font-size="21" text-anchor="start">10<tspan font-size="14" dy="-7.0">-5</tspan></text>
<text x="530.8" y="2114.2" font-size="21" text-anchor="start">10<tspan font-size="14" dy="-7.0">-7</tspan></text>
<text transform="translate(511.2,1988.5) rotate(-90)" font-size="31" text-anchor="middle">Kidney</text>
<path d="M657.9,2163.9H882.0M872.5,2163.9V2130.6H882.0M658.7,2163.9V2173.0M701.5,2163.9V2173.0M744.2,2163.9V2173.0M787.0,2163.9V2173.0M829.7,2163.9V2173.0M872.5,2163.9V2173.0" stroke="#D6D6D6" stroke-width="1.8" fill="none"/>
<rect x="673.2" y="2158.2" width="14.0" height="4.8" fill="#C00000"/>
<rect x="716.6" y="2131.0" width="13.2" height="32.0" fill="#C00000"/>
<rect x="759.0" y="2159.7" width="13.8" height="3.3" fill="#C00000"/>
<text x="895.8" y="2140.1" font-size="21.5">800</text>
<text x="896.2" y="2174.1" font-size="21.5">0</text>
<text x="648.1" y="2198.5" font-size="21" text-anchor="start">10<tspan font-size="14" dy="-7.0">-7</tspan></text>
<text x="694.0" y="2198.5" font-size="21" text-anchor="start">10<tspan font-size="14" dy="-7.0">-5</tspan></text>
<text x="738.9" y="2198.5" font-size="21" text-anchor="start">10<tspan font-size="14" dy="-7.0">-3</tspan></text>
<text x="784.5" y="2198.5" font-size="21" text-anchor="start">10<tspan font-size="14" dy="-7.0">-1</tspan></text>
<text x="829.0" y="2198.5" font-size="21" text-anchor="start">10<tspan font-size="14" dy="-7.0">1</tspan></text>
<text x="866.1" y="2198.5" font-size="21" text-anchor="start">10<tspan font-size="14" dy="-7.0">3</tspan></text>
<text x="774.4" y="2230.7" font-size="30" text-anchor="middle">Brain</text>
<text x="1233.9" y="1874.3" font-size="37" text-anchor="middle">Heart vs. Kidney</text>
<path d="M1156.7,1918.9V2106.4M1117.3,1956.4H1314.1M1196.0,1918.9V2106.4M1117.3,1993.9H1314.1M1235.4,1918.9V2106.4M1117.3,2031.4H1314.1M1274.7,1918.9V2106.4M1117.3,2068.9H1314.1" stroke="#D6D6D6" stroke-width="1.8" fill="none"/>
<path d="M1117.3,2106.4H1314.1V1918.9H1117.3Z" stroke="#D6D6D6" stroke-width="2" fill="none"/>
<path d="M1117.3,1918.9V2106.4H1314.1" stroke="#C4C4C4" stroke-width="2.2" fill="none"/>
<path d="M1117.3,2106.4L1314.1,1918.9" stroke="#000" stroke-width="4.4" stroke-dasharray="14,8" fill="none"/>
<path d="M1144.7,2064.1 L1147.2,2070.6 L1157.8,2071.7 L1169.8,2070.5 L1178.2,2060.9 L1185.5,2046.4 L1185.9,2045.7 L1186.4,2045.0 L1195.5,2034.4 L1204.7,2023.7 L1205.2,2023.2 L1205.7,2022.7 L1217.5,2013.8 L1229.4,2002.0 L1241.6,1989.8 L1242.3,1989.2 L1254.1,1980.3 L1257.1,1977.4 L1253.9,1977.8 L1243.3,1981.8 L1231.8,1990.4 L1231.4,1990.7 L1219.4,1998.2 L1207.4,2007.2 L1207.0,2007.5 L1195.6,2014.6 L1185.5,2026.1 L1185.0,2026.6 L1184.5,2027.1 L1183.9,2027.4 L1173.2,2033.6 L1172.7,2033.8 L1172.2,2034.0 L1160.0,2038.6 L1159.5,2038.7 L1158.9,2038.9 L1158.3,2039.0 L1157.8,2039.0 L1151.8,2039.0 L1148.7,2048.0 L1144.7,2064.1Z" fill="#24557F"/>
<g fill="none" stroke="#24557F" stroke-width="2.4"><circle cx="1204.4" cy="2020.1" r="4.6"/><circle cx="1195.8" cy="2017.7" r="4.6"/><circle cx="1166.0" cy="2066.8" r="4.6"/><circle cx="1193.8" cy="2033.4" r="4.6"/><circle cx="1173.6" cy="2032.5" r="4.6"/><circle cx="1189.4" cy="2022.4" r="4.6"/><circle cx="1224.9" cy="2002.6" r="4.6"/><circle cx="1209.5" cy="2019.7" r="4.6"/><circle cx="1188.5" cy="2037.7" r="4.6"/><circle cx="1172.7" cy="2067.6" r="4.6"/><circle cx="1213.2" cy="2012.4" r="4.6"/><circle cx="1151.4" cy="2068.9" r="4.6"/><circle cx="1253.4" cy="1979.0" r="4.6"/><circle cx="1162.4" cy="2072.2" r="4.6"/><circle cx="1199.7" cy="2026.9" r="4.6"/><circle cx="1223.1" cy="2007.0" r="4.6"/><circle cx="1176.2" cy="2064.2" r="4.6"/><circle cx="1145.3" cy="2063.5" r="4.6"/><circle cx="1232.0" cy="1996.9" r="4.6"/><circle cx="1186.3" cy="2027.2" r="4.6"/><circle cx="1218.8" cy="2010.7" r="4.6"/><circle cx="1210.3" cy="2005.0" r="4.6"/><circle cx="1158.5" cy="2041.0" r="4.6"/><circle cx="1147.1" cy="2051.3" r="4.6"/><circle cx="1168.2" cy="2036.8" r="4.6"/><circle cx="1246.4" cy="1978.6" r="4.6"/><circle cx="1249.6" cy="1984.2" r="4.6"/><circle cx="1202.1" cy="2011.5" r="4.6"/><circle cx="1183.1" cy="2044.1" r="4.6"/><circle cx="1171.9" cy="2038.7" r="4.6"/><circle cx="1235.9" cy="1984.8" r="4.6"/><circle cx="1179.9" cy="2030.7" r="4.6"/><circle cx="1179.9" cy="2048.0" r="4.6"/><circle cx="1162.8" cy="2040.5" r="4.6"/><circle cx="1226.5" cy="1997.1" r="4.6"/><circle cx="1255.9" cy="1975.8" r="4.6"/><circle cx="1161.4" cy="2036.2" r="4.6"/><circle cx="1214.6" cy="1998.7" r="4.6"/><circle cx="1231.7" cy="2001.2" r="4.6"/><circle cx="1230.9" cy="1992.8" r="4.6"/><circle cx="1209.2" cy="2010.7" r="4.6"/><circle cx="1153.9" cy="2073.4" r="4.6"/><circle cx="1177.0" cy="2035.8" r="4.6"/><circle cx="1187.1" cy="2046.2" r="4.6"/><circle cx="1175.4" cy="2058.9" r="4.6"/><circle cx="1254.5" cy="1983.1" r="4.6"/><circle cx="1222.5" cy="1999.5" r="4.6"/><circle cx="1183.1" cy="2052.8" r="4.6"/><circle cx="1150.1" cy="2061.0" r="4.6"/><circle cx="1151.4" cy="2036.9" r="4.6"/><circle cx="1148.9" cy="2041.4" r="4.6"/><circle cx="1193.8" cy="2014.2" r="4.6"/><circle cx="1228.7" cy="1989.5" r="4.6"/><circle cx="1217.5" cy="2003.2" r="4.6"/><circle cx="1144.6" cy="2067.8" r="4.6"/><circle cx="1151.1" cy="2054.4" r="4.6"/><circle cx="1198.4" cy="2034.3" r="4.6"/><circle cx="1152.0" cy="2049.7" r="4.6"/><circle cx="1244.5" cy="1983.7" r="4.6"/><circle cx="1238.3" cy="1991.9" r="4.6"/><circle cx="1204.3" cy="2026.2" r="4.6"/><circle cx="1155.7" cy="2068.7" r="4.6"/><circle cx="1206.2" cy="2004.9" r="4.6"/><circle cx="1158.5" cy="2073.2" r="4.6"/><circle cx="1155.5" cy="2037.3" r="4.6"/><circle cx="1184.5" cy="2032.0" r="4.6"/><circle cx="1240.7" cy="1985.2" r="4.6"/><circle cx="1194.4" cy="2038.3" r="4.6"/><circle cx="1242.0" cy="1989.9" r="4.6"/><circle cx="1238.0" cy="1996.5" r="4.6"/><circle cx="1178.8" cy="2055.1" r="4.6"/><circle cx="1162.0" cy="2067.7" r="4.6"/><circle cx="1146.1" cy="2057.8" r="4.6"/><circle cx="1169.6" cy="2072.3" r="4.6"/><circle cx="1214.6" cy="2007.4" r="4.6"/><circle cx="1200.0" cy="2022.9" r="4.6"/><circle cx="1191.8" cy="2019.0" r="4.6"/><circle cx="1194.8" cy="2029.6" r="4.6"/><circle cx="1192.1" cy="2042.0" r="4.6"/><circle cx="1228.6" cy="2004.7" r="4.6"/><circle cx="1154.5" cy="2044.2" r="4.6"/><circle cx="1247.7" cy="1987.6" r="4.6"/><circle cx="1232.7" cy="1988.8" r="4.6"/><circle cx="1201.9" cy="2015.8" r="4.6"/><circle cx="1198.2" cy="2012.7" r="4.6"/><circle cx="1218.9" cy="1995.6" r="4.6"/><circle cx="1217.6" cy="2015.1" r="4.6"/><circle cx="1149.0" cy="2064.9" r="4.6"/><circle cx="1260.0" cy="1976.0" r="4.6"/><circle cx="1147.5" cy="2045.1" r="4.6"/><circle cx="1224.7" cy="1992.6" r="4.6"/><circle cx="1170.2" cy="2063.7" r="4.6"/><circle cx="1208.3" cy="2023.7" r="4.6"/><circle cx="1213.9" cy="2018.0" r="4.6"/><circle cx="1202.2" cy="2030.3" r="4.6"/><circle cx="1145.3" cy="2071.7" r="4.6"/><circle cx="1223.1" cy="2011.1" r="4.6"/><circle cx="1209.3" cy="2014.7" r="4.6"/><circle cx="1203.3" cy="2007.8" r="4.6"/><circle cx="1213.6" cy="2002.9" r="4.6"/><circle cx="1179.0" cy="2060.9" r="4.6"/><circle cx="1250.2" cy="1976.6" r="4.6"/><circle cx="1242.6" cy="1980.1" r="4.6"/><circle cx="1182.0" cy="2026.9" r="4.6"/><circle cx="1194.3" cy="2022.4" r="4.6"/><circle cx="1190.8" cy="2026.6" r="4.6"/><circle cx="1186.5" cy="2041.9" r="4.6"/><circle cx="1234.9" cy="1993.8" r="4.6"/><circle cx="1205.6" cy="2013.3" r="4.6"/><circle cx="1149.0" cy="2073.1" r="4.6"/><circle cx="1257.7" cy="1979.3" r="4.6"/><circle cx="1169.6" cy="2032.5" r="4.6"/><circle cx="1182.3" cy="2058.3" r="4.6"/><circle cx="1184.0" cy="2048.7" r="4.6"/><circle cx="1145.6" cy="1979.9" r="4.6"/><circle cx="1171.5" cy="1970.7" r="4.6"/><circle cx="1161.6" cy="1988.3" r="4.6"/><circle cx="1152.4" cy="1994.4" r="4.6"/><circle cx="1154.7" cy="2004.3" r="4.6"/><circle cx="1168.4" cy="2005.8" r="4.6"/><circle cx="1177.6" cy="2002.7" r="4.6"/><circle cx="1183.7" cy="1996.6" r="4.6"/><circle cx="1195.1" cy="1997.4" r="4.6"/><circle cx="1203.5" cy="1986.7" r="4.6"/><circle cx="1218.8" cy="1976.1" r="4.6"/><circle cx="1231.7" cy="1966.9" r="4.6"/><circle cx="1256.9" cy="1959.3" r="4.6"/><circle cx="1262.2" cy="1957.0" r="4.6"/><circle cx="1269.1" cy="1955.5" r="4.6"/><circle cx="1281.3" cy="1948.6" r="4.6"/><circle cx="1291.2" cy="1944.0" r="4.6"/><circle cx="1298.1" cy="1931.8" r="4.6"/><circle cx="1285.1" cy="1963.9" r="4.6"/><circle cx="1250.8" cy="1992.8" r="4.6"/><circle cx="1240.9" cy="2004.3" r="4.6"/><circle cx="1243.2" cy="2019.5" r="4.6"/><circle cx="1230.2" cy="2025.6" r="4.6"/><circle cx="1232.5" cy="2047.0" r="4.6"/><circle cx="1241.6" cy="2049.3" r="4.6"/><circle cx="1205.0" cy="2044.7" r="4.6"/><circle cx="1201.2" cy="2066.0" r="4.6"/><circle cx="1194.4" cy="2056.1" r="4.6"/><circle cx="1145.6" cy="2018.0" r="4.6"/><circle cx="1145.6" cy="2027.9" r="4.6"/><circle cx="1144.0" cy="2038.6" r="4.6"/><circle cx="1173.0" cy="2023.3" r="4.6"/></g>
<path d="M1027.8,1902.8V2108.4M1018.8,1911.1H1073.2V1902.8M1018.8,1911.1H1027.8M1018.8,1950.6H1027.8M1018.8,1990.0H1027.8M1018.8,2029.5H1027.8M1018.8,2068.9H1027.8M1018.8,2108.4H1027.8" stroke="#D6D6D6" stroke-width="1.8" fill="none"/>
<rect x="1028.7" y="2003.1" width="7.5" height="13.5" fill="#C00000"/>
<rect x="1028.7" y="2042.3" width="34.4" height="13.5" fill="#C00000"/>
<rect x="1028.7" y="2081.9" width="35.4" height="13.4" fill="#C00000"/>
<text x="1027.9" y="1883.2" font-size="21.5" text-anchor="middle">0</text>
<text x="1077.3" y="1883.2" font-size="21.5" text-anchor="middle">800</text>
<text x="978.1" y="1910.8" font-size="21" text-anchor="start">10<tspan font-size="14" dy="-7.0">3</tspan></text>
<text x="978.1" y="1952.1" font-size="21" text-anchor="start">10<tspan font-size="14" dy="-7.0">1</tspan></text>
<text x="978.1" y="1993.3" font-size="21" text-anchor="start">10<tspan font-size="14" dy="-7.0">-1</tspan></text>
<text x="978.1" y="2034.6" font-size="21" text-anchor="start">10<tspan font-size="14" dy="-7.0">-3</tspan></text>
<text x="978.1" y="2075.8" font-size="21" text-anchor="start">10<tspan font-size="14" dy="-7.0">-5</tspan></text>
<text x="978.1" y="2117.1" font-size="21" text-anchor="start">10<tspan font-size="14" dy="-7.0">-7</tspan></text>
<text transform="translate(954.9,1990.7) rotate(-90)" font-size="31" text-anchor="middle">Kidney</text>
<path d="M1111.5,2167.1H1335.2M1325.7,2167.1V2133.8H1335.2M1112.1,2167.1V2176.8M1154.8,2167.1V2176.8M1197.5,2167.1V2176.8M1240.3,2167.1V2176.8M1283.0,2167.1V2176.8M1325.7,2167.1V2176.8" stroke="#D6D6D6" stroke-width="1.8" fill="none"/>
<rect x="1126.8" y="2161.3" width="13.3" height="4.9" fill="#C00000"/>
<rect x="1169.4" y="2134.2" width="13.1" height="32.0" fill="#C00000"/>
<rect x="1212.2" y="2159.7" width="13.4" height="6.5" fill="#C00000"/>
<rect x="1254.6" y="2164.5" width="13.4" height="1.7" fill="#C00000"/>
<text x="1342.6" y="2143.3" font-size="21.5">800</text>
<text x="1344.8" y="2177.7" font-size="21.5">0</text>
<text x="1099.4" y="2203.1" font-size="21" text-anchor="start">10<tspan font-size="14" dy="-7.0">-7</tspan></text>
<text x="1145.4" y="2203.1" font-size="21" text-anchor="start">10<tspan font-size="14" dy="-7.0">-5</tspan></text>
<text x="1190.0" y="2203.1" font-size="21" text-anchor="start">10<tspan font-size="14" dy="-7.0">-3</tspan></text>
<text x="1235.6" y="2203.1" font-size="21" text-anchor="start">10<tspan font-size="14" dy="-7.0">-1</tspan></text>
<text x="1281.1" y="2203.1" font-size="21" text-anchor="start">10<tspan font-size="14" dy="-7.0">1</tspan></text>
<text x="1319.3" y="2203.1" font-size="21" text-anchor="start">10<tspan font-size="14" dy="-7.0">3</tspan></text>
<text x="1228.6" y="2241.2" font-size="30" text-anchor="middle">Heart</text>
<text transform="translate(21.5,1816.8) rotate(-90)" font-size="29.6" text-anchor="middle">Peak intensity (arb. units)</text>
<text x="793.3" y="2283.7" font-size="30" text-anchor="middle">Peak intensity (arb. units)</text>
</svg></body></html>
